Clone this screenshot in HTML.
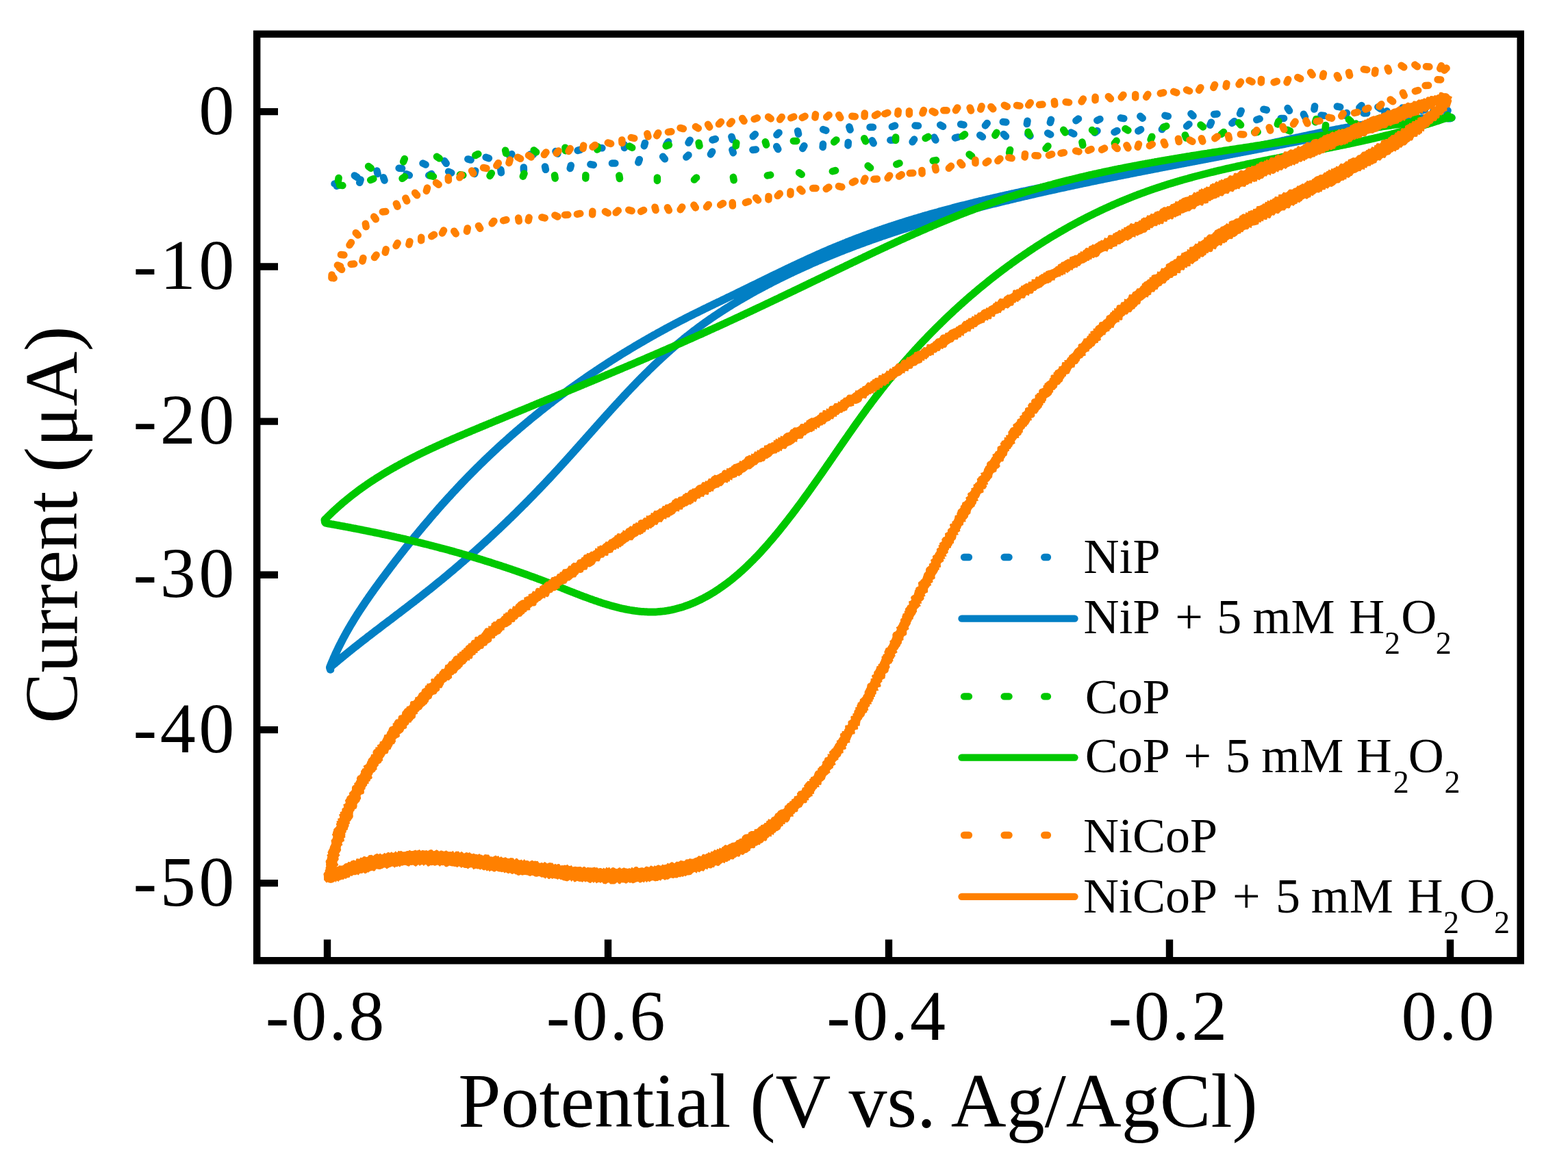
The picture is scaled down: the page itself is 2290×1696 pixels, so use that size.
<!DOCTYPE html><html><head><meta charset="utf-8"><style>html,body{margin:0;padding:0;background:#fff;overflow:hidden}svg{display:block}</style></head><body><svg xmlns="http://www.w3.org/2000/svg" width="2290" height="1696" viewBox="0 0 2290 1696">
<rect width="100%" height="100%" fill="#fff"/>
<path d="M488.5 268.4l4.5 0.0M517.8 256.5l3.8 2.5M550.5 249.5l1.1 4.4M582.6 245.7l4.5 0.4M617.5 238.6l4.1 1.9M649.2 235.1l2.5 3.7M683.3 232.4l4.3 1.2M709.6 229.8l4.3 1.4M747.3 225.1l-2.6 3.7M774.4 225.5l4.5 0.3M811.5 221.1l2.9 3.5M847.9 218.6l-4.3 1.3M874.9 215.9l4.5 0.3M911.8 211.4l0.1 4.5M942.0 208.9l-1.2 4.3M976.1 207.1l-2.6 3.7M1007.7 204.7l-2.2 3.9M1044.8 203.1l-4.3 1.3M1068.4 199.7l1.4 4.3M1102.9 196.1l-3.2 3.2M1137.6 193.8l-3.2 3.2M1165.1 191.4l1.0 4.4M1202.1 189.1l4.2 1.6M1240.3 185.3l1.3 4.3M1270.5 185.8l4.5 0.0M1307.1 183.5l-4.2 1.6M1336.5 183.5l4.5 0.2M1373.2 182.5l3.9 2.3M1403.1 181.5l4.4 0.9M1441.7 180.0l-2.8 3.5M1464.8 178.1l4.5 0.4M1500.5 176.7l-0.7 4.4M1535.0 174.8l-1.2 4.3M1575.0 173.6l-3.6 2.6M1606.4 174.0l-4.1 1.9M1636.9 172.3l4.4 0.8M1665.3 169.8l3.4 2.9M1701.4 168.8l4.4 1.0M1739.4 166.1l3.2 3.2M1777.6 166.5l-4.5 0.4M1812.7 161.9l-1.7 4.2M1845.4 159.7l4.4 1.0M1880.6 158.0l2.4 3.8M1920.1 155.2l-0.7 4.4M1952.8 155.5l4.4 0.9M1988.5 153.9l-3.2 3.2M2012.4 156.3l3.7 2.6M2048.0 157.6l3.0 3.3M2080.8 160.2l-4.3 1.3M2114.5 161.3l-1.6 4.2M495.8 270.5l-4.3 1.2M526.6 262.5l-1.4 4.3M560.0 259.2l1.5 4.3M593.7 254.2l4.1 1.9M630.1 253.9l-3.9 2.3M655.1 250.7l4.1 1.8M694.2 249.5l-1.1 4.4M731.3 247.8l0.6 4.5M764.8 244.4l0.1 4.5M796.0 243.4l0.9 4.4M833.8 241.7l-1.1 4.4M862.4 240.1l4.4 0.8M893.9 238.5l4.5 0.0M933.8 232.9l-1.5 4.3M968.1 228.8l2.8 3.5M1005.5 226.5l-3.2 3.1M1040.2 221.5l-2.3 3.9M1069.4 218.9l1.4 4.3M1103.9 218.5l-4.5 0.4M1134.2 214.0l2.1 4.0M1174.4 213.0l-2.2 3.9M1202.0 210.5l-0.4 4.5M1238.8 207.9l-0.3 4.5M1273.6 205.3l2.1 4.0M1304.8 204.5l-4.5 0.2M1335.1 203.6l-2.5 3.7M1364.3 200.6l2.1 4.0M1399.2 200.2l-4.3 1.2M1431.2 197.4l3.7 2.6M1465.8 196.0l3.2 3.2M1501.3 195.7l3.3 3.0M1530.2 194.5l4.0 2.1M1564.3 193.6l4.0 2.0M1602.5 191.1l-3.5 2.8M1631.5 191.0l-4.0 2.1M1666.1 189.2l-3.8 2.3M1699.6 185.4l-2.7 3.6M1736.5 181.4l-3.4 3.0M1769.0 178.7l-1.8 4.1M1802.8 177.2l-3.5 2.8M1839.6 173.6l-4.3 1.4M1875.1 172.9l-4.5 0.1M1903.9 166.8l2.0 4.0M1929.5 168.6l4.5 0.4M1967.0 165.0l-2.5 3.7M1996.2 165.3l-4.5 0.1M2025.5 162.2l-3.2 3.2M2054.1 163.2l3.5 2.8M2093.2 162.3l-1.3 4.3" fill="none" stroke="#027fc4" stroke-width="10.5" stroke-linecap="round"/>
<path d="M2120.0 172.0L2118.2 172.7L2116.1 172.7L2114.1 172.6L2112.0 172.6L2110.0 172.5L2108.0 172.5L2105.9 172.5L2103.9 172.5L2101.9 172.5L2099.8 172.5L2097.8 172.5L2095.8 172.5L2093.8 172.5L2091.7 172.6L2089.7 172.6L2087.7 172.7L2085.7 172.7L2083.7 172.8L2081.6 172.9L2079.6 172.9L2077.6 173.0L2075.6 173.1L2073.6 173.2L2071.6 173.3L2069.6 173.4L2067.6 173.5L2065.5 173.6L2063.5 173.8L2061.5 173.9L2059.5 174.1L2057.5 174.2L2055.5 174.4L2053.5 174.5L2051.5 174.7L2049.5 174.9L2047.5 175.0L2045.5 175.2L2043.5 175.4L2041.5 175.6L2039.6 175.8L2037.6 176.0L2035.6 176.2L2033.6 176.4L2031.6 176.6L2029.6 176.9L2027.6 177.1L2025.6 177.3L2023.6 177.6L2021.7 177.8L2019.7 178.1L2017.7 178.3L2015.7 178.6L2013.7 178.9L2011.8 179.1L2009.8 179.4L2007.8 179.7L2005.8 180.0L2003.8 180.3L2001.9 180.5L1999.9 180.8L1997.9 181.1L1995.9 181.4L1994.0 181.8L1992.0 182.1L1990.0 182.4L1988.0 182.7L1986.1 183.0L1984.1 183.4L1982.1 183.7L1980.2 184.0L1978.2 184.4L1976.2 184.7L1974.3 185.0L1972.3 185.4L1970.3 185.7L1968.4 186.1L1966.4 186.4L1964.4 186.8L1962.5 187.2L1960.5 187.5L1958.6 187.9L1956.6 188.3L1954.6 188.7L1952.7 189.0L1950.7 189.4L1948.7 189.8L1946.8 190.2L1944.8 190.6L1942.9 191.0L1940.9 191.3L1938.9 191.7L1937.0 192.1L1935.0 192.5L1933.1 192.9L1931.1 193.3L1929.2 193.7L1927.2 194.1L1925.2 194.5L1923.3 195.0L1921.3 195.4L1919.4 195.8L1917.4 196.2L1915.5 196.6L1913.5 197.0L1911.6 197.4L1909.6 197.9L1907.6 198.3L1905.7 198.7L1903.7 199.1L1901.8 199.5L1899.8 200.0L1897.9 200.4L1895.9 200.8L1894.0 201.2L1892.0 201.7L1890.0 202.1L1888.1 202.5L1886.1 202.9L1884.2 203.4L1882.2 203.8L1880.3 204.2L1878.3 204.6L1876.4 205.1L1874.4 205.5L1872.5 205.9L1870.5 206.3L1868.5 206.8L1866.6 207.2L1864.6 207.6L1862.7 208.0L1860.7 208.5L1858.8 208.9L1856.8 209.3L1854.8 209.7L1852.9 210.2L1850.9 210.6L1849.0 211.0L1847.0 211.4L1845.1 211.8L1843.1 212.3L1841.1 212.7L1839.2 213.1L1837.2 213.5L1835.3 213.9L1833.3 214.3L1831.3 214.7L1829.4 215.2L1827.4 215.6L1825.5 216.0L1823.5 216.4L1821.5 216.8L1819.6 217.2L1817.6 217.6L1815.6 218.0L1813.7 218.4L1811.7 218.8L1809.8 219.2L1807.8 219.6L1805.8 220.0L1803.9 220.4L1801.9 220.8L1799.9 221.2L1798.0 221.6L1796.0 221.9L1794.0 222.3L1792.1 222.7L1790.1 223.1L1788.1 223.5L1786.2 223.9L1784.2 224.3L1782.2 224.7L1780.3 225.0L1778.3 225.4L1776.3 225.8L1774.4 226.2L1772.4 226.6L1770.4 227.0L1768.5 227.3L1766.5 227.7L1764.5 228.1L1762.5 228.5L1760.6 228.8L1758.6 229.2L1756.6 229.6L1754.7 230.0L1752.7 230.3L1750.7 230.7L1748.7 231.1L1746.8 231.5L1744.8 231.8L1742.8 232.2L1740.9 232.6L1738.9 233.0L1736.9 233.3L1734.9 233.7L1733.0 234.1L1731.0 234.4L1729.0 234.8L1727.1 235.2L1725.1 235.5L1723.1 235.9L1721.1 236.3L1719.2 236.6L1717.2 237.0L1715.2 237.4L1713.3 237.7L1711.3 238.1L1709.3 238.5L1707.3 238.8L1705.4 239.2L1703.4 239.5L1701.4 239.9L1699.4 240.3L1697.5 240.6L1695.5 241.0L1693.5 241.4L1691.5 241.7L1689.6 242.1L1687.6 242.5L1685.6 242.8L1683.6 243.2L1681.7 243.5L1679.7 243.9L1677.7 244.3L1675.8 244.6L1673.8 245.0L1671.8 245.3L1669.8 245.7L1667.9 246.1L1665.9 246.4L1663.9 246.8L1661.9 247.2L1660.0 247.5L1658.0 247.9L1656.0 248.2L1654.0 248.6L1652.1 249.0L1650.1 249.3L1648.1 249.7L1646.1 250.1L1644.2 250.4L1642.2 250.8L1640.2 251.1L1638.3 251.5L1636.3 251.9L1634.3 252.2L1632.3 252.6L1630.4 253.0L1628.4 253.3L1626.4 253.7L1624.4 254.1L1622.5 254.4L1620.5 254.8L1618.5 255.2L1616.6 255.5L1614.6 255.9L1612.6 256.3L1610.6 256.6L1608.7 257.0L1606.7 257.4L1604.7 257.7L1602.8 258.1L1600.8 258.5L1598.8 258.8L1596.8 259.2L1594.9 259.6L1592.9 260.0L1590.9 260.3L1589.0 260.7L1587.0 261.1L1585.0 261.4L1583.1 261.8L1581.1 262.2L1579.1 262.6L1577.1 263.0L1575.2 263.3L1573.2 263.7L1571.2 264.1L1569.3 264.5L1567.3 264.9L1565.3 265.2L1563.4 265.6L1561.4 266.0L1559.4 266.4L1557.5 266.8L1555.5 267.2L1553.5 267.5L1551.6 267.9L1549.6 268.3L1547.6 268.7L1545.7 269.1L1543.7 269.5L1541.7 269.9L1539.8 270.3L1537.8 270.7L1535.8 271.1L1533.9 271.5L1531.9 271.8L1530.0 272.2L1528.0 272.6L1526.0 273.0L1524.1 273.4L1522.1 273.8L1520.1 274.2L1518.2 274.7L1516.2 275.1L1514.3 275.5L1512.3 275.9L1510.3 276.3L1508.4 276.7L1506.4 277.1L1504.5 277.5L1502.5 277.9L1500.5 278.3L1498.6 278.8L1496.6 279.2L1494.7 279.6L1492.7 280.0L1490.8 280.4L1488.8 280.9L1486.9 281.3L1484.9 281.7L1482.9 282.1L1481.0 282.6L1479.0 283.0L1477.1 283.4L1475.1 283.8L1473.2 284.3L1471.2 284.7L1469.3 285.1L1467.3 285.6L1465.4 286.0L1463.4 286.5L1461.5 286.9L1459.5 287.3L1457.6 287.8L1455.6 288.2L1453.7 288.7L1451.7 289.1L1449.8 289.6L1447.8 290.0L1445.9 290.5L1443.9 291.0L1442.0 291.4L1440.0 291.9L1438.1 292.3L1436.2 292.8L1434.2 293.3L1432.3 293.7L1430.3 294.2L1428.4 294.7L1426.4 295.1L1424.5 295.6L1422.6 296.1L1420.6 296.6L1418.7 297.0L1416.7 297.5L1414.8 298.0L1412.9 298.5L1410.9 299.0L1409.0 299.5L1407.1 300.0L1405.1 300.4L1403.2 300.9L1401.3 301.4L1399.3 301.9L1397.4 302.4L1395.5 302.9L1393.5 303.4L1391.6 303.9L1389.7 304.5L1387.7 305.0L1385.8 305.5L1383.9 306.0L1381.9 306.5L1380.0 307.0L1378.1 307.5L1376.2 308.1L1374.2 308.6L1372.3 309.1L1370.4 309.7L1368.5 310.2L1366.6 310.7L1364.6 311.3L1362.7 311.8L1360.8 312.3L1358.9 312.9L1357.0 313.4L1355.0 314.0L1353.1 314.5L1351.2 315.1L1349.3 315.6L1347.4 316.2L1345.5 316.8L1343.5 317.3L1341.6 317.9L1339.7 318.5L1337.8 319.0L1335.9 319.6L1334.0 320.2L1332.1 320.8L1330.2 321.4L1328.3 321.9L1326.4 322.5L1324.5 323.1L1322.6 323.7L1320.7 324.3L1318.8 324.9L1316.9 325.5L1315.0 326.1L1313.1 326.7L1311.2 327.3L1309.3 327.9L1307.4 328.6L1305.5 329.2L1303.6 329.8L1301.7 330.4L1299.8 331.0L1297.9 331.7L1296.0 332.3L1294.1 332.9L1292.2 333.6L1290.3 334.2L1288.5 334.9L1286.6 335.5L1284.7 336.2L1282.8 336.8L1280.9 337.5L1279.0 338.1L1277.2 338.8L1275.3 339.5L1273.4 340.1L1271.5 340.8L1269.6 341.5L1267.8 342.2L1265.9 342.9L1264.0 343.5L1262.2 344.2L1260.3 344.9L1258.4 345.6L1256.5 346.3L1254.7 347.0L1252.8 347.7L1250.9 348.4L1249.1 349.1L1247.2 349.9L1245.4 350.6L1243.5 351.3L1241.6 352.0L1239.8 352.8L1237.9 353.5L1236.1 354.2L1234.2 355.0L1232.4 355.7L1230.5 356.5L1228.7 357.2L1226.8 358.0L1225.0 358.7L1223.1 359.5L1221.3 360.3L1219.4 361.0L1217.6 361.8L1215.7 362.6L1213.9 363.3L1212.1 364.1L1210.2 364.9L1208.4 365.7L1206.5 366.5L1204.7 367.3L1202.9 368.1L1201.0 368.9L1199.2 369.7L1197.4 370.5L1195.5 371.3L1193.7 372.1L1191.9 372.9L1190.1 373.8L1188.2 374.6L1186.4 375.4L1184.6 376.2L1182.8 377.1L1180.9 377.9L1179.1 378.7L1177.3 379.6L1175.5 380.4L1173.7 381.2L1171.8 382.1L1170.0 382.9L1168.2 383.8L1166.4 384.6L1164.6 385.5L1162.7 386.3L1160.9 387.2L1159.1 388.0L1157.3 388.9L1155.5 389.8L1153.7 390.6L1151.9 391.5L1150.1 392.3L1148.2 393.2L1146.4 394.1L1144.6 394.9L1142.8 395.8L1141.0 396.7L1139.2 397.6L1137.4 398.4L1135.6 399.3L1133.8 400.2L1132.0 401.0L1130.2 401.9L1128.3 402.8L1126.5 403.7L1124.7 404.6L1122.9 405.4L1121.1 406.3L1119.3 407.2L1117.5 408.1L1115.7 409.0L1113.9 409.9L1112.1 410.7L1110.3 411.6L1108.5 412.5L1106.7 413.4L1104.9 414.3L1103.1 415.2L1101.3 416.0L1099.5 416.9L1097.6 417.8L1095.8 418.7L1094.0 419.6L1092.2 420.5L1090.4 421.3L1088.6 422.2L1086.8 423.1L1085.0 424.0L1083.2 424.9L1081.4 425.8L1079.6 426.6L1077.8 427.5L1076.0 428.4L1074.2 429.3L1072.4 430.2L1070.6 431.0L1068.7 431.9L1066.9 432.8L1065.1 433.7L1063.3 434.5L1061.5 435.4L1059.7 436.3L1057.9 437.2L1056.1 438.0L1054.3 438.9L1052.5 439.8L1050.7 440.7L1048.8 441.5L1047.0 442.4L1045.2 443.3L1043.4 444.1L1041.6 445.0L1039.8 445.9L1038.0 446.8L1036.2 447.6L1034.4 448.5L1032.6 449.4L1030.8 450.3L1029.0 451.1L1027.2 452.0L1025.4 452.9L1023.6 453.8L1021.8 454.7L1020.0 455.6L1018.2 456.5L1016.4 457.3L1014.6 458.2L1012.8 459.1L1011.0 460.0L1009.2 460.9L1007.4 461.8L1005.6 462.7L1003.8 463.6L1002.0 464.5L1000.3 465.5L998.5 466.4L996.7 467.3L994.9 468.2L993.1 469.1L991.4 470.0L989.6 471.0L987.8 471.9L986.0 472.8L984.3 473.8L982.5 474.7L980.7 475.6L979.0 476.6L977.2 477.5L975.4 478.5L973.7 479.4L971.9 480.4L970.2 481.3L968.4 482.3L966.7 483.3L964.9 484.2L963.1 485.2L961.4 486.1L959.6 487.1L957.9 488.1L956.2 489.1L954.4 490.0L952.7 491.0L950.9 492.0L949.2 493.0L947.4 494.0L945.7 495.0L944.0 496.0L942.2 497.0L940.5 498.0L938.8 499.0L937.1 500.0L935.3 501.0L933.6 502.0L931.9 503.0L930.2 504.0L928.4 505.0L926.7 506.0L925.0 507.1L923.3 508.1L921.6 509.1L919.9 510.1L918.2 511.2L916.5 512.2L914.8 513.2L913.0 514.3L911.3 515.3L909.6 516.4L907.9 517.4L906.2 518.5L904.6 519.5L902.9 520.6L901.2 521.6L899.5 522.7L897.8 523.8L896.1 524.8L894.4 525.9L892.7 527.0L891.1 528.0L889.4 529.1L887.7 530.2L886.0 531.3L884.3 532.4L882.7 533.5L881.0 534.5L879.3 535.6L877.7 536.7L876.0 537.8L874.3 538.9L872.7 540.0L871.0 541.1L869.4 542.2L867.7 543.4L866.0 544.5L864.4 545.6L862.7 546.7L861.1 547.8L859.4 549.0L857.8 550.1L856.2 551.2L854.5 552.3L852.9 553.5L851.2 554.6L849.6 555.8L848.0 556.9L846.3 558.0L844.7 559.2L843.1 560.3L841.5 561.5L839.8 562.7L838.2 563.8L836.6 565.0L835.0 566.1L833.4 567.3L831.7 568.5L830.1 569.6L828.5 570.8L826.9 572.0L825.3 573.2L823.7 574.4L822.1 575.6L820.5 576.7L818.9 577.9L817.3 579.1L815.7 580.3L814.1 581.5L812.5 582.7L810.9 583.9L809.3 585.1L807.8 586.3L806.2 587.6L804.6 588.8L803.0 590.0L801.4 591.2L799.9 592.4L798.3 593.7L796.7 594.9L795.1 596.1L793.6 597.4L792.0 598.6L790.5 599.8L788.9 601.1L787.3 602.3L785.8 603.6L784.2 604.8L782.7 606.1L781.1 607.3L779.6 608.6L778.0 609.9L776.5 611.1L774.9 612.4L773.4 613.7L771.9 614.9L770.3 616.2L768.8 617.5L767.3 618.8L765.7 620.1L764.2 621.3L762.7 622.6L761.2 623.9L759.6 625.2L758.1 626.5L756.6 627.8L755.1 629.1L753.6 630.4L752.1 631.7L750.6 633.0L749.0 634.4L747.5 635.7L746.0 637.0L744.5 638.3L743.0 639.6L741.6 641.0L740.1 642.3L738.6 643.6L737.1 645.0L735.6 646.3L734.1 647.7L732.6 649.0L731.1 650.3L729.7 651.7L728.2 653.0L726.7 654.4L725.3 655.8L723.8 657.1L722.3 658.5L720.9 659.9L719.4 661.2L717.9 662.6L716.5 664.0L715.0 665.3L713.6 666.7L712.1 668.1L710.7 669.5L709.2 670.9L707.8 672.3L706.3 673.7L704.9 675.1L703.5 676.5L702.0 677.9L700.6 679.3L699.2 680.7L697.7 682.1L696.3 683.5L694.9 684.9L693.5 686.4L692.1 687.8L690.6 689.2L689.2 690.6L687.8 692.1L686.4 693.5L685.0 694.9L683.6 696.4L682.2 697.8L680.8 699.2L679.4 700.7L678.0 702.1L676.6 703.6L675.2 705.0L673.8 706.5L672.4 708.0L671.1 709.4L669.7 710.9L668.3 712.3L666.9 713.8L665.6 715.3L664.2 716.8L662.8 718.2L661.4 719.7L660.1 721.2L658.7 722.7L657.4 724.2L656.0 725.6L654.6 727.1L653.3 728.6L651.9 730.1L650.6 731.6L649.2 733.1L647.9 734.6L646.5 736.1L645.2 737.6L643.9 739.1L642.5 740.6L641.2 742.1L639.9 743.6L638.5 745.1L637.2 746.7L635.9 748.2L634.6 749.7L633.2 751.2L631.9 752.7L630.6 754.3L629.3 755.8L628.0 757.3L626.7 758.9L625.4 760.4L624.1 761.9L622.8 763.5L621.5 765.0L620.2 766.5L618.9 768.1L617.6 769.6L616.3 771.2L615.0 772.7L613.7 774.3L612.4 775.8L611.1 777.4L609.8 778.9L608.6 780.5L607.3 782.0L606.0 783.6L604.7 785.1L603.5 786.7L602.2 788.3L600.9 789.8L599.7 791.4L598.4 793.0L597.2 794.5L595.9 796.1L594.6 797.7L593.4 799.3L592.1 800.8L590.9 802.4L589.6 804.0L588.4 805.6L587.2 807.1L585.9 808.7L584.7 810.3L583.4 811.9L582.2 813.5L581.0 815.1L579.8 816.6L578.5 818.2L577.3 819.8L576.1 821.4L574.9 823.0L573.6 824.6L572.4 826.2L571.2 827.8L570.0 829.4L568.8 831.0L567.6 832.6L566.4 834.2L565.2 835.8L564.0 837.4L562.8 839.0L561.6 840.6L560.4 842.2L559.2 843.8L558.0 845.4L556.8 847.0L555.6 848.6L554.4 850.2L553.3 851.8L552.1 853.5L550.9 855.1L549.7 856.7L548.6 858.3L547.4 859.9L546.2 861.5L545.1 863.2L543.9 864.8L542.8 866.4L541.6 868.0L540.5 869.7L539.3 871.3L538.2 872.9L537.1 874.6L535.9 876.2L534.8 877.8L533.7 879.5L532.6 881.1L531.5 882.8L530.4 884.4L529.3 886.1L528.2 887.7L527.1 889.4L526.0 891.0L524.9 892.7L523.8 894.4L522.7 896.0L521.7 897.7L520.6 899.4L519.6 901.1L518.5 902.7L517.5 904.4L516.4 906.1L515.4 907.8L514.4 909.5L513.4 911.2L512.3 912.9L511.3 914.6L510.3 916.3L509.3 918.0L508.4 919.7L507.4 921.4L506.4 923.2L505.4 924.9L504.5 926.6L503.5 928.4L502.6 930.1L501.6 931.8L500.7 933.6L499.8 935.3L498.9 937.1L498.0 938.9L497.1 940.6L496.2 942.4L495.3 944.2L494.4 945.9L493.6 947.7L492.7 949.5L491.9 951.3L491.0 953.1L490.2 954.9L489.4 956.7L488.6 958.5L487.7 960.3L487.0 962.2L486.2 964.0L485.4 965.8L484.6 967.7L483.9 969.5L483.1 971.4L482.4 973.2L481.7 975.1L482.5 978.0L482.3 974.8L483.8 973.5L485.3 972.2L486.8 970.9L488.4 969.6L489.9 968.3L491.4 967.1L492.9 965.8L494.5 964.5L496.0 963.2L497.5 962.0L499.1 960.7L500.6 959.4L502.1 958.2L503.7 956.9L505.2 955.7L506.8 954.4L508.3 953.2L509.9 951.9L511.4 950.7L513.0 949.4L514.5 948.2L516.1 946.9L517.6 945.7L519.2 944.5L520.8 943.2L522.3 942.0L523.9 940.8L525.5 939.5L527.1 938.3L528.6 937.1L530.2 935.8L531.8 934.6L533.4 933.4L534.9 932.2L536.5 930.9L538.1 929.7L539.7 928.5L541.3 927.3L542.8 926.1L544.4 924.9L546.0 923.6L547.6 922.4L549.2 921.2L550.8 920.0L552.4 918.8L554.0 917.6L555.5 916.4L557.1 915.1L558.7 913.9L560.3 912.7L561.9 911.5L563.5 910.3L565.1 909.1L566.7 907.9L568.3 906.7L569.9 905.5L571.5 904.3L573.1 903.1L574.7 901.8L576.3 900.6L577.8 899.4L579.4 898.2L581.0 897.0L582.6 895.8L584.2 894.6L585.8 893.4L587.4 892.2L589.0 890.9L590.6 889.7L592.2 888.5L593.8 887.3L595.3 886.1L596.9 884.9L598.5 883.6L600.1 882.4L601.7 881.2L603.3 880.0L604.9 878.8L606.4 877.5L608.0 876.3L609.6 875.1L611.2 873.8L612.8 872.6L614.3 871.4L615.9 870.1L617.5 868.9L619.1 867.7L620.6 866.4L622.2 865.2L623.8 864.0L625.3 862.7L626.9 861.5L628.5 860.2L630.0 859.0L631.6 857.7L633.1 856.5L634.7 855.2L636.2 853.9L637.8 852.7L639.3 851.4L640.9 850.2L642.4 848.9L644.0 847.6L645.5 846.4L647.1 845.1L648.6 843.8L650.1 842.5L651.7 841.3L653.2 840.0L654.8 838.7L656.3 837.4L657.8 836.1L659.3 834.8L660.9 833.6L662.4 832.3L663.9 831.0L665.4 829.7L667.0 828.4L668.5 827.1L670.0 825.8L671.5 824.5L673.0 823.2L674.5 821.9L676.1 820.6L677.6 819.3L679.1 817.9L680.6 816.6L682.1 815.3L683.6 814.0L685.1 812.7L686.6 811.4L688.1 810.0L689.6 808.7L691.1 807.4L692.6 806.1L694.1 804.7L695.5 803.4L697.0 802.1L698.5 800.7L700.0 799.4L701.5 798.1L703.0 796.7L704.4 795.4L705.9 794.0L707.4 792.7L708.9 791.3L710.3 790.0L711.8 788.6L713.3 787.3L714.8 785.9L716.2 784.6L717.7 783.2L719.2 781.8L720.6 780.5L722.1 779.1L723.5 777.8L725.0 776.4L726.4 775.0L727.9 773.6L729.4 772.3L730.8 770.9L732.3 769.5L733.7 768.1L735.1 766.8L736.6 765.4L738.0 764.0L739.5 762.6L740.9 761.2L742.4 759.8L743.8 758.4L745.2 757.1L746.7 755.7L748.1 754.3L749.5 752.9L750.9 751.5L752.4 750.1L753.8 748.7L755.2 747.3L756.6 745.8L758.1 744.4L759.5 743.0L760.9 741.6L762.3 740.2L763.7 738.8L765.1 737.4L766.6 736.0L768.0 734.5L769.4 733.1L770.8 731.7L772.2 730.3L773.6 728.8L775.0 727.4L776.4 726.0L777.8 724.6L779.2 723.1L780.6 721.7L782.0 720.2L783.4 718.8L784.8 717.4L786.2 715.9L787.5 714.5L788.9 713.0L790.3 711.6L791.7 710.1L793.1 708.7L794.5 707.2L795.8 705.8L797.2 704.3L798.6 702.9L800.0 701.4L801.3 700.0L802.7 698.5L804.1 697.0L805.4 695.6L806.8 694.1L808.2 692.6L809.5 691.2L810.9 689.7L812.3 688.2L813.6 686.7L815.0 685.3L816.3 683.8L817.7 682.3L819.0 680.8L820.4 679.3L821.7 677.9L823.1 676.4L824.4 674.9L825.8 673.4L827.1 671.9L828.5 670.4L829.8 668.9L831.2 667.4L832.5 665.9L833.9 664.5L835.2 663.0L836.5 661.5L837.9 660.0L839.2 658.5L840.5 657.0L841.9 655.5L843.2 654.0L844.6 652.5L845.9 651.0L847.2 649.5L848.6 648.0L849.9 646.5L851.2 645.0L852.6 643.5L853.9 642.0L855.2 640.5L856.6 639.0L857.9 637.5L859.2 636.0L860.6 634.5L861.9 633.0L863.2 631.5L864.6 630.0L865.9 628.5L867.2 627.0L868.6 625.5L869.9 624.0L871.2 622.5L872.6 621.0L873.9 619.5L875.2 618.0L876.6 616.5L877.9 615.0L879.3 613.5L880.6 612.0L881.9 610.5L883.3 609.0L884.6 607.5L886.0 606.0L887.3 604.5L888.6 603.1L890.0 601.6L891.3 600.1L892.7 598.6L894.0 597.1L895.4 595.6L896.7 594.2L898.1 592.7L899.4 591.2L900.8 589.7L902.1 588.3L903.5 586.8L904.8 585.3L906.2 583.8L907.6 582.4L908.9 580.9L910.3 579.4L911.6 578.0L913.0 576.5L914.4 575.1L915.7 573.6L917.1 572.1L918.5 570.7L919.9 569.2L921.2 567.8L922.6 566.3L924.0 564.9L925.4 563.5L926.8 562.0L928.2 560.6L929.5 559.2L930.9 557.7L932.3 556.3L933.7 554.9L935.1 553.5L936.5 552.0L937.9 550.6L939.3 549.2L940.7 547.8L942.1 546.4L943.6 545.0L945.0 543.6L946.4 542.2L947.8 540.8L949.2 539.4L950.7 538.0L952.1 536.6L953.5 535.2L955.0 533.8L956.4 532.5L957.8 531.1L959.3 529.7L960.7 528.4L962.2 527.0L963.6 525.6L965.1 524.3L966.5 522.9L968.0 521.6L969.5 520.2L970.9 518.9L972.4 517.6L973.9 516.2L975.4 514.9L976.8 513.6L978.3 512.3L979.8 510.9L981.3 509.6L982.8 508.3L984.3 507.0L985.8 505.7L987.3 504.4L988.8 503.1L990.4 501.9L991.9 500.6L993.4 499.3L994.9 498.0L996.5 496.8L998.0 495.5L999.5 494.2L1001.1 493.0L1002.6 491.7L1004.2 490.5L1005.8 489.3L1007.3 488.0L1008.9 486.8L1010.5 485.6L1012.0 484.4L1013.6 483.2L1015.2 482.0L1016.8 480.8L1018.4 479.6L1020.0 478.4L1021.6 477.2L1023.2 476.0L1024.8 474.8L1026.4 473.7L1028.0 472.5L1029.7 471.3L1031.3 470.2L1032.9 469.0L1034.5 467.9L1036.2 466.7L1037.8 465.6L1039.5 464.5L1041.1 463.3L1042.8 462.2L1044.4 461.1L1046.1 460.0L1047.8 458.9L1049.4 457.8L1051.1 456.7L1052.8 455.6L1054.5 454.5L1056.1 453.4L1057.8 452.3L1059.5 451.3L1061.2 450.2L1062.9 449.1L1064.6 448.1L1066.3 447.0L1068.0 446.0L1069.7 444.9L1071.4 443.9L1073.2 442.8L1074.9 441.8L1076.6 440.8L1078.3 439.7L1080.0 438.7L1081.8 437.7L1083.5 436.7L1085.2 435.7L1087.0 434.7L1088.7 433.7L1090.5 432.7L1092.2 431.7L1093.9 430.7L1095.7 429.7L1097.4 428.7L1099.2 427.7L1101.0 426.8L1102.7 425.8L1104.5 424.8L1106.2 423.9L1108.0 422.9L1109.8 422.0L1111.5 421.0L1113.3 420.1L1115.1 419.1L1116.9 418.2L1118.6 417.3L1120.4 416.3L1122.2 415.4L1124.0 414.5L1125.8 413.6L1127.5 412.6L1129.3 411.7L1131.1 410.8L1132.9 409.9L1134.7 409.0L1136.5 408.1L1138.3 407.2L1140.1 406.3L1141.9 405.4L1143.7 404.6L1145.5 403.7L1147.3 402.8L1149.1 401.9L1150.9 401.0L1152.7 400.2L1154.5 399.3L1156.3 398.5L1158.1 397.6L1159.9 396.7L1161.7 395.9L1163.6 395.0L1165.4 394.2L1167.2 393.4L1169.0 392.5L1170.8 391.7L1172.7 390.9L1174.5 390.0L1176.3 389.2L1178.1 388.4L1180.0 387.6L1181.8 386.8L1183.6 385.9L1185.4 385.1L1187.3 384.3L1189.1 383.5L1190.9 382.7L1192.8 381.9L1194.6 381.1L1196.5 380.3L1198.3 379.6L1200.1 378.8L1202.0 378.0L1203.8 377.2L1205.7 376.4L1207.5 375.7L1209.4 374.9L1211.2 374.1L1213.1 373.4L1214.9 372.6L1216.8 371.9L1218.6 371.1L1220.5 370.4L1222.3 369.6L1224.2 368.9L1226.0 368.1L1227.9 367.4L1229.8 366.7L1231.6 365.9L1233.5 365.2L1235.3 364.5L1237.2 363.7L1239.1 363.0L1240.9 362.3L1242.8 361.6L1244.7 360.9L1246.5 360.2L1248.4 359.4L1250.3 358.7L1252.2 358.0L1254.0 357.3L1255.9 356.6L1257.8 355.9L1259.7 355.3L1261.5 354.6L1263.4 353.9L1265.3 353.2L1267.2 352.5L1269.1 351.8L1271.0 351.2L1272.8 350.5L1274.7 349.8L1276.6 349.2L1278.5 348.5L1280.4 347.8L1282.3 347.2L1284.2 346.5L1286.1 345.9L1288.0 345.2L1289.8 344.5L1291.7 343.9L1293.6 343.3L1295.5 342.6L1297.4 342.0L1299.3 341.3L1301.2 340.7L1303.1 340.1L1305.0 339.4L1306.9 338.8L1308.8 338.2L1310.7 337.6L1312.6 336.9L1314.5 336.3L1316.4 335.7L1318.3 335.1L1320.3 334.5L1322.2 333.9L1324.1 333.3L1326.0 332.7L1327.9 332.0L1329.8 331.4L1331.7 330.8L1333.6 330.3L1335.5 329.7L1337.5 329.1L1339.4 328.5L1341.3 327.9L1343.2 327.3L1345.1 326.7L1347.0 326.1L1349.0 325.6L1350.9 325.0L1352.8 324.4L1354.7 323.8L1356.6 323.3L1358.6 322.7L1360.5 322.1L1362.4 321.6L1364.3 321.0L1366.2 320.4L1368.2 319.9L1370.1 319.3L1372.0 318.8L1374.0 318.2L1375.9 317.7L1377.8 317.1L1379.7 316.6L1381.7 316.0L1383.6 315.5L1385.5 314.9L1387.5 314.4L1389.4 313.9L1391.3 313.3L1393.3 312.8L1395.2 312.3L1397.1 311.7L1399.1 311.2L1401.0 310.7L1402.9 310.1L1404.9 309.6L1406.8 309.1L1408.7 308.6L1410.7 308.1L1412.6 307.5L1414.5 307.0L1416.5 306.5L1418.4 306.0L1420.4 305.5L1422.3 305.0L1424.2 304.5L1426.2 304.0L1428.1 303.5L1430.1 303.0L1432.0 302.5L1434.0 302.0L1435.9 301.5L1437.8 301.0L1439.8 300.5L1441.7 300.0L1443.7 299.5L1445.6 299.0L1447.6 298.5L1449.5 298.0L1451.4 297.5L1453.4 297.1L1455.3 296.6L1457.3 296.1L1459.2 295.6L1461.2 295.1L1463.1 294.7L1465.1 294.2L1467.0 293.7L1469.0 293.2L1470.9 292.8L1472.9 292.3L1474.8 291.8L1476.8 291.4L1478.7 290.9L1480.7 290.4L1482.6 290.0L1484.6 289.5L1486.5 289.0L1488.5 288.6L1490.4 288.1L1492.4 287.7L1494.3 287.2L1496.3 286.7L1498.2 286.3L1500.2 285.8L1502.1 285.4L1504.1 284.9L1506.0 284.5L1508.0 284.0L1509.9 283.6L1511.9 283.1L1513.9 282.7L1515.8 282.2L1517.8 281.8L1519.7 281.4L1521.7 280.9L1523.6 280.5L1525.6 280.0L1527.5 279.6L1529.5 279.2L1531.4 278.7L1533.4 278.3L1535.3 277.9L1537.3 277.4L1539.3 277.0L1541.2 276.6L1543.2 276.1L1545.1 275.7L1547.1 275.3L1549.0 274.8L1551.0 274.4L1552.9 274.0L1554.9 273.6L1556.9 273.1L1558.8 272.7L1560.8 272.3L1562.7 271.9L1564.7 271.4L1566.6 271.0L1568.6 270.6L1570.6 270.2L1572.5 269.8L1574.5 269.4L1576.4 268.9L1578.4 268.5L1580.3 268.1L1582.3 267.7L1584.3 267.3L1586.2 266.9L1588.2 266.5L1590.1 266.1L1592.1 265.6L1594.0 265.2L1596.0 264.8L1598.0 264.4L1599.9 264.0L1601.9 263.6L1603.8 263.2L1605.8 262.8L1607.8 262.4L1609.7 262.0L1611.7 261.6L1613.6 261.2L1615.6 260.8L1617.6 260.4L1619.5 260.0L1621.5 259.6L1623.4 259.2L1625.4 258.8L1627.4 258.4L1629.3 258.0L1631.3 257.6L1633.2 257.2L1635.2 256.8L1637.2 256.4L1639.1 256.0L1641.1 255.6L1643.1 255.2L1645.0 254.9L1647.0 254.5L1648.9 254.1L1650.9 253.7L1652.9 253.3L1654.8 252.9L1656.8 252.5L1658.7 252.1L1660.7 251.7L1662.7 251.3L1664.6 251.0L1666.6 250.6L1668.6 250.2L1670.5 249.8L1672.5 249.4L1674.4 249.0L1676.4 248.6L1678.4 248.3L1680.3 247.9L1682.3 247.5L1684.3 247.1L1686.2 246.7L1688.2 246.4L1690.1 246.0L1692.1 245.6L1694.1 245.2L1696.0 244.8L1698.0 244.4L1700.0 244.1L1701.9 243.7L1703.9 243.3L1705.9 242.9L1707.8 242.5L1709.8 242.2L1711.7 241.8L1713.7 241.4L1715.7 241.0L1717.6 240.7L1719.6 240.3L1721.6 239.9L1723.5 239.5L1725.5 239.1L1727.5 238.8L1729.4 238.4L1731.4 238.0L1733.3 237.6L1735.3 237.3L1737.3 236.9L1739.2 236.5L1741.2 236.1L1743.2 235.8L1745.1 235.4L1747.1 235.0L1749.1 234.6L1751.0 234.3L1753.0 233.9L1755.0 233.5L1756.9 233.1L1758.9 232.8L1760.9 232.4L1762.8 232.0L1764.8 231.6L1766.7 231.3L1768.7 230.9L1770.7 230.5L1772.6 230.1L1774.6 229.8L1776.6 229.4L1778.5 229.0L1780.5 228.6L1782.5 228.3L1784.4 227.9L1786.4 227.5L1788.4 227.1L1790.3 226.8L1792.3 226.4L1794.3 226.0L1796.2 225.6L1798.2 225.3L1800.2 224.9L1802.1 224.5L1804.1 224.1L1806.1 223.8L1808.0 223.4L1810.0 223.0L1811.9 222.6L1813.9 222.3L1815.9 221.9L1817.8 221.5L1819.8 221.1L1821.8 220.8L1823.7 220.4L1825.7 220.0L1827.7 219.6L1829.6 219.3L1831.6 218.9L1833.6 218.5L1835.5 218.1L1837.5 217.7L1839.5 217.4L1841.4 217.0L1843.4 216.6L1845.4 216.2L1847.3 215.8L1849.3 215.5L1851.3 215.1L1853.2 214.7L1855.2 214.3L1857.2 213.9L1859.1 213.6L1861.1 213.2L1863.0 212.8L1865.0 212.4L1867.0 212.0L1868.9 211.6L1870.9 211.3L1872.9 210.9L1874.8 210.5L1876.8 210.1L1878.8 209.7L1880.7 209.3L1882.7 208.9L1884.7 208.6L1886.6 208.2L1888.6 207.8L1890.6 207.4L1892.5 207.0L1894.5 206.6L1896.4 206.2L1898.4 205.8L1900.4 205.4L1902.3 205.1L1904.3 204.7L1906.3 204.3L1908.2 203.9L1910.2 203.5L1912.2 203.1L1914.1 202.7L1916.1 202.3L1918.1 201.9L1920.0 201.5L1922.0 201.1L1924.0 200.7L1925.9 200.3L1927.9 199.9L1929.8 199.5L1931.8 199.1L1933.8 198.8L1935.7 198.4L1937.7 198.0L1939.7 197.6L1941.6 197.2L1943.6 196.8L1945.6 196.4L1947.5 196.0L1949.5 195.6L1951.5 195.2L1953.4 194.9L1955.4 194.5L1957.4 194.1L1959.3 193.7L1961.3 193.3L1963.3 192.9L1965.2 192.6L1967.2 192.2L1969.2 191.8L1971.1 191.4L1973.1 191.1L1975.1 190.7L1977.0 190.3L1979.0 189.9L1981.0 189.6L1982.9 189.2L1984.9 188.9L1986.9 188.5L1988.9 188.1L1990.8 187.8L1992.8 187.4L1994.8 187.1L1996.7 186.7L1998.7 186.4L2000.7 186.0L2002.7 185.7L2004.6 185.3L2006.6 185.0L2008.6 184.7L2010.5 184.3L2012.5 184.0L2014.5 183.7L2016.5 183.4L2018.5 183.0L2020.4 182.7L2022.4 182.4L2024.4 182.1L2026.4 181.8L2028.3 181.5L2030.3 181.2L2032.3 180.9L2034.3 180.6L2036.3 180.3L2038.2 180.0L2040.2 179.7L2042.2 179.4L2044.2 179.2L2046.2 178.9L2048.1 178.6L2050.1 178.4L2052.1 178.1L2054.1 177.8L2056.1 177.6L2058.1 177.3L2060.1 177.1L2062.1 176.9L2064.0 176.6L2066.0 176.4L2068.0 176.2L2070.0 175.9L2072.0 175.7L2074.0 175.5L2076.0 175.3L2078.0 175.1L2080.0 174.9L2082.0 174.7L2084.0 174.5L2086.0 174.3L2088.0 174.2L2090.0 174.0L2091.9 173.8L2093.9 173.7L2095.9 173.5L2097.9 173.3L2099.9 173.2L2102.0 173.1L2104.0 172.9L2106.0 172.8L2108.0 172.7L2110.0 172.6L2112.0 172.4L2114.0 172.3L2116.0 172.2L2118.0 172.1L2120.0 172.0" stroke="#027fc4" stroke-width="11.5" fill="none" stroke-linecap="round" stroke-linejoin="round"/>
<path d="M494.6 259.9l-0.7 4.4M538.1 243.0l3.6 2.7M590.8 232.1l-1.7 4.2M637.9 228.8l3.8 2.5M698.3 224.9l-4.0 2.1M738.1 219.7l1.0 4.4M779.7 219.4l3.4 2.9M825.4 215.7l0.5 4.5M872.4 214.0l-0.1 4.5M919.3 213.6l3.9 2.2M976.9 211.8l-4.2 1.5M1020.6 208.7l0.9 4.4M1075.3 208.7l-0.6 4.5M1117.8 207.3l1.3 4.3M1163.3 205.9l-4.5 0.1M1221.4 204.4l-3.3 3.0M1262.2 202.3l2.0 4.1M1308.2 200.4l-0.1 4.5M1355.5 199.7l-3.9 2.3M1409.1 196.3l-3.6 2.7M1455.5 193.8l-2.2 3.9M1501.6 192.8l2.0 4.0M1553.2 189.8l2.5 3.7M1595.0 190.0l3.5 2.8M1643.5 188.1l3.9 2.3M1703.3 184.2l-4.1 1.8M1753.5 182.5l3.5 2.9M1809.1 179.3l3.0 3.3M1867.3 177.2l-1.5 4.2M1922.3 174.0l-1.3 4.3M1969.8 174.4l3.2 3.1M2013.3 173.2l4.5 0.1M2065.9 171.0l4.3 1.3M2114.1 168.6l0.4 4.5M496.0 270.3l4.4 0.7M545.3 261.2l-4.1 1.8M591.1 258.1l-3.6 2.7M628.6 256.6l4.3 1.2M671.9 255.3l4.4 0.7M717.8 253.0l-2.3 3.9M765.5 253.5l-1.7 4.2M810.0 256.1l0.7 4.4M855.4 255.9l-0.1 4.5M904.3 256.5l0.7 4.4M959.9 259.4l-0.0 4.5M1017.1 259.4l-3.2 3.2M1070.9 258.8l0.8 4.4M1125.2 255.6l-4.4 0.8M1167.1 252.2l3.6 2.7M1220.1 249.1l-4.3 1.2M1267.6 242.3l3.5 2.9M1313.5 238.4l-4.2 1.7M1367.1 234.1l-4.4 0.8M1415.6 225.5l3.6 2.7M1475.1 218.9l-1.0 4.4M1530.5 213.5l-3.0 3.4M1580.4 207.6l0.9 4.4M1630.6 205.8l-2.8 3.5M1682.3 199.7l-1.7 4.2M1730.8 197.4l1.6 4.2M1787.1 193.1l-3.5 2.9M1836.7 192.9l-4.5 0.3M1879.8 189.7l4.2 1.7M1936.1 182.9l-0.5 4.5M1980.1 180.6l3.6 2.6M2033.6 177.0l-2.8 3.5M2076.9 177.1l-4.2 1.6" fill="none" stroke="#00c800" stroke-width="10.5" stroke-linecap="round"/>
<path d="M2120.0 172.0L2117.8 171.4L2115.8 171.6L2113.8 171.9L2111.8 172.1L2109.9 172.4L2107.9 172.6L2105.9 172.9L2103.9 173.2L2101.9 173.4L2100.0 173.7L2098.0 173.9L2096.0 174.2L2094.0 174.4L2092.0 174.7L2090.0 175.0L2088.1 175.2L2086.1 175.5L2084.1 175.8L2082.1 176.0L2080.1 176.3L2078.2 176.6L2076.2 176.8L2074.2 177.1L2072.2 177.4L2070.2 177.6L2068.3 177.9L2066.3 178.2L2064.3 178.4L2062.3 178.7L2060.3 179.0L2058.4 179.3L2056.4 179.5L2054.4 179.8L2052.4 180.1L2050.4 180.4L2048.5 180.7L2046.5 180.9L2044.5 181.2L2042.5 181.5L2040.5 181.8L2038.6 182.1L2036.6 182.3L2034.6 182.6L2032.6 182.9L2030.6 183.2L2028.7 183.5L2026.7 183.8L2024.7 184.0L2022.7 184.3L2020.7 184.6L2018.8 184.9L2016.8 185.2L2014.8 185.5L2012.8 185.8L2010.9 186.1L2008.9 186.4L2006.9 186.6L2004.9 186.9L2002.9 187.2L2001.0 187.5L1999.0 187.8L1997.0 188.1L1995.0 188.4L1993.0 188.7L1991.1 189.0L1989.1 189.3L1987.1 189.6L1985.1 189.9L1983.2 190.2L1981.2 190.5L1979.2 190.8L1977.2 191.1L1975.2 191.4L1973.3 191.7L1971.3 192.0L1969.3 192.3L1967.3 192.6L1965.3 192.9L1963.4 193.2L1961.4 193.5L1959.4 193.8L1957.4 194.1L1955.5 194.4L1953.5 194.7L1951.5 195.0L1949.5 195.3L1947.5 195.6L1945.6 195.9L1943.6 196.2L1941.6 196.5L1939.6 196.8L1937.6 197.1L1935.7 197.4L1933.7 197.7L1931.7 198.0L1929.7 198.3L1927.7 198.6L1925.8 198.9L1923.8 199.3L1921.8 199.6L1919.8 199.9L1917.8 200.2L1915.9 200.5L1913.9 200.8L1911.9 201.1L1909.9 201.4L1908.0 201.7L1906.0 202.0L1904.0 202.3L1902.0 202.6L1900.0 202.9L1898.1 203.2L1896.1 203.5L1894.1 203.9L1892.1 204.2L1890.1 204.5L1888.2 204.8L1886.2 205.1L1884.2 205.4L1882.2 205.7L1880.2 206.0L1878.2 206.3L1876.3 206.6L1874.3 206.9L1872.3 207.2L1870.3 207.5L1868.3 207.8L1866.4 208.2L1864.4 208.5L1862.4 208.8L1860.4 209.1L1858.4 209.4L1856.4 209.7L1854.5 210.0L1852.5 210.3L1850.5 210.6L1848.5 210.9L1846.5 211.2L1844.6 211.5L1842.6 211.8L1840.6 212.1L1838.6 212.4L1836.6 212.7L1834.6 213.0L1832.7 213.3L1830.7 213.7L1828.7 214.0L1826.7 214.3L1824.7 214.6L1822.7 214.9L1820.8 215.2L1818.8 215.5L1816.8 215.8L1814.8 216.1L1812.8 216.4L1810.8 216.7L1808.8 217.0L1806.9 217.3L1804.9 217.6L1802.9 217.9L1800.9 218.2L1798.9 218.5L1796.9 218.8L1795.0 219.1L1793.0 219.4L1791.0 219.7L1789.0 220.0L1787.0 220.3L1785.0 220.7L1783.1 221.0L1781.1 221.3L1779.1 221.6L1777.1 221.9L1775.1 222.2L1773.1 222.5L1771.1 222.8L1769.2 223.1L1767.2 223.4L1765.2 223.7L1763.2 224.1L1761.2 224.4L1759.2 224.7L1757.3 225.0L1755.3 225.3L1753.3 225.6L1751.3 225.9L1749.3 226.3L1747.4 226.6L1745.4 226.9L1743.4 227.2L1741.4 227.5L1739.4 227.8L1737.4 228.2L1735.5 228.5L1733.5 228.8L1731.5 229.1L1729.5 229.5L1727.5 229.8L1725.6 230.1L1723.6 230.4L1721.6 230.8L1719.6 231.1L1717.6 231.4L1715.7 231.8L1713.7 232.1L1711.7 232.4L1709.7 232.8L1707.8 233.1L1705.8 233.4L1703.8 233.8L1701.8 234.1L1699.9 234.5L1697.9 234.8L1695.9 235.1L1693.9 235.5L1691.9 235.8L1690.0 236.2L1688.0 236.5L1686.0 236.9L1684.1 237.2L1682.1 237.6L1680.1 237.9L1678.1 238.3L1676.2 238.7L1674.2 239.0L1672.2 239.4L1670.3 239.7L1668.3 240.1L1666.3 240.5L1664.3 240.8L1662.4 241.2L1660.4 241.6L1658.4 241.9L1656.5 242.3L1654.5 242.7L1652.5 243.1L1650.6 243.5L1648.6 243.8L1646.6 244.2L1644.7 244.6L1642.7 245.0L1640.8 245.4L1638.8 245.8L1636.8 246.2L1634.9 246.5L1632.9 246.9L1630.9 247.3L1629.0 247.7L1627.0 248.1L1625.1 248.5L1623.1 249.0L1621.1 249.4L1619.2 249.8L1617.2 250.2L1615.3 250.6L1613.3 251.0L1611.4 251.4L1609.4 251.9L1607.5 252.3L1605.5 252.7L1603.6 253.1L1601.6 253.6L1599.7 254.0L1597.7 254.4L1595.8 254.9L1593.8 255.3L1591.9 255.7L1589.9 256.2L1588.0 256.6L1586.0 257.1L1584.1 257.5L1582.1 258.0L1580.2 258.5L1578.2 258.9L1576.3 259.4L1574.4 259.8L1572.4 260.3L1570.5 260.8L1568.5 261.2L1566.6 261.7L1564.7 262.2L1562.7 262.7L1560.8 263.2L1558.8 263.6L1556.9 264.1L1555.0 264.6L1553.0 265.1L1551.1 265.6L1549.2 266.1L1547.2 266.6L1545.3 267.1L1543.4 267.6L1541.5 268.1L1539.5 268.6L1537.6 269.2L1535.7 269.7L1533.8 270.2L1531.8 270.7L1529.9 271.2L1528.0 271.8L1526.1 272.3L1524.1 272.8L1522.2 273.4L1520.3 273.9L1518.4 274.5L1516.5 275.0L1514.5 275.6L1512.6 276.1L1510.7 276.7L1508.8 277.2L1506.9 277.8L1505.0 278.3L1503.1 278.9L1501.2 279.5L1499.2 280.0L1497.3 280.6L1495.4 281.2L1493.5 281.8L1491.6 282.4L1489.7 282.9L1487.8 283.5L1485.9 284.1L1484.0 284.7L1482.1 285.3L1480.2 285.9L1478.3 286.5L1476.4 287.1L1474.5 287.7L1472.6 288.3L1470.7 289.0L1468.8 289.6L1466.9 290.2L1465.0 290.8L1463.1 291.5L1461.2 292.1L1459.4 292.7L1457.5 293.4L1455.6 294.0L1453.7 294.6L1451.8 295.3L1449.9 295.9L1448.0 296.6L1446.2 297.2L1444.3 297.9L1442.4 298.6L1440.5 299.2L1438.6 299.9L1436.8 300.6L1434.9 301.2L1433.0 301.9L1431.1 302.6L1429.3 303.3L1427.4 304.0L1425.5 304.7L1423.6 305.4L1421.8 306.1L1419.9 306.8L1418.0 307.5L1416.2 308.2L1414.3 308.9L1412.4 309.6L1410.6 310.3L1408.7 311.0L1406.9 311.7L1405.0 312.5L1403.1 313.2L1401.3 313.9L1399.4 314.6L1397.6 315.4L1395.7 316.1L1393.8 316.9L1392.0 317.6L1390.1 318.3L1388.3 319.1L1386.4 319.8L1384.6 320.6L1382.7 321.4L1380.9 322.1L1379.0 322.9L1377.2 323.6L1375.3 324.4L1373.5 325.2L1371.7 325.9L1369.8 326.7L1368.0 327.5L1366.1 328.3L1364.3 329.0L1362.4 329.8L1360.6 330.6L1358.8 331.4L1356.9 332.2L1355.1 333.0L1353.3 333.8L1351.4 334.6L1349.6 335.4L1347.7 336.2L1345.9 337.0L1344.1 337.8L1342.2 338.6L1340.4 339.4L1338.6 340.2L1336.7 341.0L1334.9 341.8L1333.1 342.6L1331.3 343.4L1329.4 344.2L1327.6 345.1L1325.8 345.9L1323.9 346.7L1322.1 347.5L1320.3 348.4L1318.5 349.2L1316.6 350.0L1314.8 350.8L1313.0 351.7L1311.2 352.5L1309.4 353.3L1307.5 354.2L1305.7 355.0L1303.9 355.9L1302.1 356.7L1300.3 357.5L1298.4 358.4L1296.6 359.2L1294.8 360.1L1293.0 360.9L1291.2 361.8L1289.3 362.6L1287.5 363.5L1285.7 364.3L1283.9 365.2L1282.1 366.0L1280.3 366.9L1278.4 367.7L1276.6 368.6L1274.8 369.4L1273.0 370.3L1271.2 371.1L1269.4 372.0L1267.6 372.9L1265.8 373.7L1263.9 374.6L1262.1 375.4L1260.3 376.3L1258.5 377.2L1256.7 378.0L1254.9 378.9L1253.1 379.8L1251.3 380.6L1249.5 381.5L1247.7 382.4L1245.8 383.2L1244.0 384.1L1242.2 385.0L1240.4 385.8L1238.6 386.7L1236.8 387.6L1235.0 388.4L1233.2 389.3L1231.4 390.2L1229.6 391.0L1227.8 391.9L1226.0 392.8L1224.1 393.6L1222.3 394.5L1220.5 395.4L1218.7 396.3L1216.9 397.1L1215.1 398.0L1213.3 398.9L1211.5 399.7L1209.7 400.6L1207.9 401.5L1206.1 402.3L1204.3 403.2L1202.5 404.1L1200.7 405.0L1198.9 405.8L1197.1 406.7L1195.3 407.6L1193.4 408.4L1191.6 409.3L1189.8 410.2L1188.0 411.0L1186.2 411.9L1184.4 412.8L1182.6 413.6L1180.8 414.5L1179.0 415.4L1177.2 416.3L1175.4 417.1L1173.6 418.0L1171.8 418.9L1170.0 419.7L1168.2 420.6L1166.4 421.5L1164.6 422.3L1162.8 423.2L1161.0 424.1L1159.1 424.9L1157.3 425.8L1155.5 426.7L1153.7 427.5L1151.9 428.4L1150.1 429.2L1148.3 430.1L1146.5 431.0L1144.7 431.8L1142.9 432.7L1141.1 433.6L1139.3 434.4L1137.5 435.3L1135.7 436.2L1133.9 437.0L1132.1 437.9L1130.2 438.7L1128.4 439.6L1126.6 440.5L1124.8 441.3L1123.0 442.2L1121.2 443.0L1119.4 443.9L1117.6 444.7L1115.8 445.6L1114.0 446.5L1112.2 447.3L1110.4 448.2L1108.5 449.0L1106.7 449.9L1104.9 450.7L1103.1 451.6L1101.3 452.4L1099.5 453.3L1097.7 454.1L1095.9 455.0L1094.1 455.8L1092.2 456.7L1090.4 457.5L1088.6 458.4L1086.8 459.2L1085.0 460.1L1083.2 460.9L1081.4 461.8L1079.6 462.6L1077.7 463.5L1075.9 464.3L1074.1 465.1L1072.3 466.0L1070.5 466.8L1068.7 467.7L1066.9 468.5L1065.0 469.3L1063.2 470.2L1061.4 471.0L1059.6 471.9L1057.8 472.7L1056.0 473.5L1054.1 474.4L1052.3 475.2L1050.5 476.0L1048.7 476.9L1046.9 477.7L1045.0 478.5L1043.2 479.3L1041.4 480.2L1039.6 481.0L1037.7 481.8L1035.9 482.6L1034.1 483.5L1032.3 484.3L1030.5 485.1L1028.6 485.9L1026.8 486.8L1025.0 487.6L1023.2 488.4L1021.3 489.2L1019.5 490.0L1017.7 490.8L1015.9 491.7L1014.0 492.5L1012.2 493.3L1010.4 494.1L1008.5 494.9L1006.7 495.7L1004.9 496.5L1003.1 497.3L1001.2 498.2L999.4 499.0L997.6 499.8L995.7 500.6L993.9 501.4L992.1 502.2L990.2 503.0L988.4 503.8L986.6 504.6L984.7 505.4L982.9 506.2L981.1 507.0L979.2 507.8L977.4 508.6L975.6 509.4L973.7 510.2L971.9 511.0L970.1 511.8L968.2 512.6L966.4 513.4L964.6 514.2L962.7 515.0L960.9 515.8L959.1 516.6L957.2 517.4L955.4 518.2L953.5 519.0L951.7 519.7L949.9 520.5L948.0 521.3L946.2 522.1L944.4 522.9L942.5 523.7L940.7 524.5L938.8 525.3L937.0 526.1L935.2 526.8L933.3 527.6L931.5 528.4L929.6 529.2L927.8 530.0L926.0 530.8L924.1 531.6L922.3 532.3L920.4 533.1L918.6 533.9L916.7 534.7L914.9 535.5L913.1 536.2L911.2 537.0L909.4 537.8L907.5 538.6L905.7 539.4L903.8 540.1L902.0 540.9L900.1 541.7L898.3 542.5L896.5 543.3L894.6 544.0L892.8 544.8L890.9 545.6L889.1 546.4L887.2 547.1L885.4 547.9L883.5 548.7L881.7 549.5L879.8 550.2L878.0 551.0L876.2 551.8L874.3 552.6L872.5 553.3L870.6 554.1L868.8 554.9L866.9 555.6L865.1 556.4L863.2 557.2L861.4 558.0L859.5 558.7L857.7 559.5L855.8 560.3L854.0 561.0L852.1 561.8L850.3 562.6L848.4 563.3L846.6 564.1L844.7 564.9L842.9 565.7L841.0 566.4L839.2 567.2L837.3 568.0L835.5 568.7L833.6 569.5L831.8 570.3L829.9 571.0L828.1 571.8L826.2 572.6L824.4 573.3L822.5 574.1L820.7 574.9L818.8 575.6L817.0 576.4L815.1 577.2L813.3 577.9L811.4 578.7L809.6 579.5L807.7 580.2L805.9 581.0L804.0 581.8L802.1 582.5L800.3 583.3L798.4 584.0L796.6 584.8L794.7 585.6L792.9 586.3L791.0 587.1L789.2 587.9L787.3 588.6L785.5 589.4L783.6 590.2L781.8 590.9L779.9 591.7L778.1 592.5L776.2 593.2L774.4 594.0L772.5 594.8L770.7 595.5L768.8 596.3L766.9 597.1L765.1 597.8L763.2 598.6L761.4 599.3L759.5 600.1L757.7 600.9L755.8 601.6L754.0 602.4L752.1 603.2L750.3 603.9L748.4 604.7L746.6 605.5L744.7 606.2L742.9 607.0L741.0 607.8L739.1 608.5L737.3 609.3L735.4 610.1L733.6 610.8L731.7 611.6L729.9 612.4L728.0 613.1L726.2 613.9L724.3 614.7L722.5 615.4L720.6 616.2L718.8 617.0L716.9 617.8L715.1 618.5L713.2 619.3L711.3 620.1L709.5 620.8L707.6 621.6L705.8 622.4L703.9 623.1L702.1 623.9L700.2 624.7L698.4 625.5L696.5 626.2L694.7 627.0L692.8 627.8L691.0 628.5L689.1 629.3L687.3 630.1L685.4 630.9L683.6 631.7L681.7 632.4L679.9 633.2L678.0 634.0L676.2 634.8L674.3 635.6L672.5 636.4L670.7 637.1L668.8 637.9L667.0 638.7L665.1 639.5L663.3 640.3L661.5 641.1L659.6 641.9L657.8 642.7L656.0 643.5L654.1 644.3L652.3 645.1L650.5 645.9L648.6 646.8L646.8 647.6L645.0 648.4L643.2 649.2L641.3 650.0L639.5 650.9L637.7 651.7L635.9 652.5L634.1 653.4L632.3 654.2L630.4 655.0L628.6 655.9L626.8 656.7L625.0 657.6L623.2 658.4L621.4 659.3L619.6 660.2L617.8 661.0L616.0 661.9L614.2 662.8L612.5 663.6L610.7 664.5L608.9 665.4L607.1 666.3L605.3 667.2L603.5 668.1L601.8 669.0L600.0 669.9L598.2 670.8L596.5 671.7L594.7 672.6L592.9 673.6L591.2 674.5L589.4 675.4L587.7 676.4L585.9 677.3L584.2 678.2L582.5 679.2L580.7 680.2L579.0 681.1L577.3 682.1L575.5 683.1L573.8 684.0L572.1 685.0L570.4 686.0L568.6 687.0L566.9 688.0L565.2 689.0L563.5 690.0L561.8 691.0L560.1 692.1L558.4 693.1L556.8 694.1L555.1 695.2L553.4 696.2L551.7 697.3L550.0 698.3L548.4 699.4L546.7 700.5L545.1 701.5L543.4 702.6L541.7 703.7L540.1 704.8L538.5 705.9L536.8 707.0L535.2 708.2L533.6 709.3L531.9 710.4L530.3 711.6L528.7 712.7L527.1 713.9L525.5 715.0L523.9 716.2L522.3 717.4L520.7 718.6L519.1 719.8L517.5 721.0L516.0 722.2L514.4 723.4L512.8 724.6L511.3 725.9L509.7 727.1L508.2 728.4L506.6 729.6L505.1 730.9L503.5 732.2L502.0 733.4L500.5 734.7L499.0 736.0L497.5 737.3L495.9 738.7L494.4 740.0L492.9 741.3L491.5 742.7L490.0 744.0L488.5 745.4L487.0 746.7L485.6 748.1L484.1 749.5L482.6 750.9L481.2 752.3L479.8 753.7L478.3 755.2L476.9 756.6L475.5 758.0L474.0 759.5L474.5 763.0L475.9 764.2L477.9 764.6L480.0 765.0L482.0 765.3L484.0 765.7L486.1 766.0L488.1 766.4L490.1 766.8L492.1 767.1L494.1 767.5L496.1 767.9L498.1 768.3L500.2 768.6L502.2 769.0L504.2 769.4L506.2 769.7L508.2 770.1L510.2 770.5L512.2 770.9L514.2 771.3L516.1 771.7L518.1 772.0L520.1 772.4L522.1 772.8L524.1 773.2L526.1 773.6L528.1 774.0L530.0 774.4L532.0 774.8L534.0 775.2L536.0 775.6L538.0 776.0L539.9 776.4L541.9 776.8L543.9 777.2L545.8 777.6L547.8 778.0L549.8 778.4L551.7 778.8L553.7 779.2L555.6 779.6L557.6 780.1L559.6 780.5L561.5 780.9L563.5 781.3L565.4 781.7L567.4 782.2L569.3 782.6L571.3 783.0L573.2 783.5L575.2 783.9L577.1 784.3L579.0 784.8L581.0 785.2L582.9 785.6L584.9 786.1L586.8 786.5L588.7 787.0L590.7 787.4L592.6 787.9L594.5 788.3L596.5 788.8L598.4 789.2L600.3 789.7L602.3 790.1L604.2 790.6L606.1 791.1L608.0 791.5L610.0 792.0L611.9 792.5L613.8 792.9L615.7 793.4L617.7 793.9L619.6 794.4L621.5 794.8L623.4 795.3L625.3 795.8L627.2 796.3L629.2 796.8L631.1 797.3L633.0 797.8L634.9 798.3L636.8 798.7L638.7 799.2L640.6 799.7L642.5 800.3L644.5 800.8L646.4 801.3L648.3 801.8L650.2 802.3L652.1 802.8L654.0 803.3L655.9 803.8L657.8 804.4L659.7 804.9L661.6 805.4L663.5 805.9L665.4 806.5L667.3 807.0L669.2 807.5L671.1 808.1L673.0 808.6L674.9 809.2L676.8 809.7L678.7 810.3L680.6 810.8L682.5 811.4L684.4 811.9L686.3 812.5L688.2 813.0L690.1 813.6L692.0 814.2L693.9 814.7L695.8 815.3L697.7 815.9L699.6 816.4L701.5 817.0L703.4 817.6L705.3 818.2L707.2 818.8L709.1 819.4L711.0 820.0L712.9 820.6L714.8 821.1L716.7 821.7L718.6 822.4L720.5 823.0L722.3 823.6L724.2 824.2L726.1 824.8L728.0 825.4L729.9 826.0L731.8 826.6L733.7 827.3L735.6 827.9L737.5 828.5L739.4 829.2L741.3 829.8L743.2 830.4L745.1 831.1L747.0 831.7L748.9 832.4L750.8 833.0L752.7 833.7L754.6 834.3L756.5 835.0L758.4 835.7L760.3 836.3L762.2 837.0L764.1 837.7L766.0 838.3L767.9 839.0L769.8 839.7L771.7 840.4L773.6 841.1L775.5 841.8L777.4 842.5L779.3 843.1L781.2 843.8L783.1 844.5L785.0 845.3L786.9 846.0L788.8 846.7L790.8 847.4L792.7 848.1L794.6 848.8L796.5 849.6L798.4 850.3L800.3 851.0L802.2 851.8L804.1 852.5L806.0 853.2L808.0 854.0L809.9 854.7L811.8 855.5L813.7 856.2L815.6 857.0L817.5 857.7L819.5 858.5L821.4 859.3L823.3 860.0L825.2 860.8L827.1 861.5L829.1 862.3L831.0 863.1L832.9 863.8L834.8 864.6L836.8 865.3L838.7 866.1L840.6 866.8L842.5 867.6L844.5 868.3L846.4 869.1L848.3 869.8L850.2 870.5L852.2 871.3L854.1 872.0L856.0 872.7L857.9 873.4L859.9 874.1L861.8 874.8L863.7 875.5L865.6 876.2L867.6 876.9L869.5 877.5L871.4 878.2L873.4 878.9L875.3 879.5L877.2 880.1L879.1 880.8L881.1 881.4L883.0 882.0L884.9 882.6L886.8 883.2L888.8 883.7L890.7 884.3L892.6 884.9L894.5 885.4L896.4 885.9L898.4 886.4L900.3 886.9L902.2 887.4L904.1 887.9L906.0 888.3L908.0 888.8L909.9 889.2L911.8 889.6L913.7 890.0L915.6 890.4L917.6 890.7L919.5 891.1L921.4 891.4L923.3 891.7L925.2 892.0L927.1 892.3L929.0 892.5L930.9 892.8L932.8 893.0L934.7 893.2L936.7 893.4L938.6 893.5L940.5 893.6L942.4 893.8L944.3 893.8L946.2 893.9L948.1 894.0L950.0 894.0L951.9 894.0L953.7 894.0L955.6 893.9L957.5 893.9L959.4 893.8L961.3 893.6L963.2 893.5L965.1 893.3L967.0 893.1L968.9 892.9L970.7 892.7L972.6 892.4L974.5 892.1L976.4 891.8L978.2 891.4L980.1 891.1L982.0 890.7L983.8 890.2L985.7 889.8L987.6 889.3L989.4 888.8L991.3 888.3L993.1 887.8L995.0 887.2L996.8 886.7L998.6 886.1L1000.5 885.4L1002.3 884.8L1004.1 884.1L1005.9 883.5L1007.8 882.8L1009.6 882.0L1011.4 881.3L1013.2 880.5L1015.0 879.8L1016.8 879.0L1018.6 878.1L1020.3 877.3L1022.1 876.4L1023.9 875.6L1025.6 874.7L1027.4 873.8L1029.2 872.8L1030.9 871.9L1032.6 870.9L1034.4 870.0L1036.1 869.0L1037.8 868.0L1039.5 867.0L1041.2 865.9L1042.9 864.9L1044.6 863.8L1046.3 862.7L1048.0 861.6L1049.6 860.5L1051.3 859.4L1052.9 858.2L1054.6 857.1L1056.2 855.9L1057.8 854.8L1059.5 853.6L1061.1 852.4L1062.7 851.2L1064.3 849.9L1065.9 848.7L1067.5 847.4L1069.0 846.2L1070.6 844.9L1072.2 843.6L1073.7 842.3L1075.3 841.0L1076.8 839.7L1078.4 838.4L1079.9 837.0L1081.4 835.7L1083.0 834.3L1084.5 833.0L1086.0 831.6L1087.5 830.2L1089.0 828.8L1090.4 827.4L1091.9 826.0L1093.4 824.5L1094.9 823.1L1096.3 821.7L1097.8 820.2L1099.2 818.8L1100.7 817.3L1102.1 815.8L1103.5 814.4L1105.0 812.9L1106.4 811.4L1107.8 809.9L1109.2 808.4L1110.6 806.9L1112.0 805.4L1113.4 803.8L1114.8 802.3L1116.2 800.8L1117.5 799.2L1118.9 797.7L1120.3 796.2L1121.6 794.6L1123.0 793.0L1124.3 791.5L1125.7 789.9L1127.0 788.4L1128.4 786.8L1129.7 785.2L1131.0 783.6L1132.3 782.0L1133.7 780.5L1135.0 778.9L1136.3 777.3L1137.6 775.7L1138.9 774.1L1140.2 772.5L1141.4 770.9L1142.7 769.3L1144.0 767.7L1145.3 766.1L1146.5 764.5L1147.8 762.9L1149.1 761.3L1150.3 759.7L1151.6 758.0L1152.8 756.4L1154.1 754.8L1155.3 753.2L1156.6 751.6L1157.8 750.0L1159.0 748.3L1160.3 746.7L1161.5 745.1L1162.7 743.5L1163.9 741.8L1165.1 740.2L1166.3 738.6L1167.6 737.0L1168.8 735.3L1170.0 733.7L1171.2 732.1L1172.4 730.4L1173.6 728.8L1174.7 727.2L1175.9 725.5L1177.1 723.9L1178.3 722.3L1179.5 720.6L1180.7 719.0L1181.8 717.4L1183.0 715.7L1184.2 714.1L1185.3 712.4L1186.5 710.8L1187.7 709.1L1188.8 707.5L1190.0 705.9L1191.2 704.2L1192.3 702.6L1193.5 700.9L1194.6 699.3L1195.8 697.6L1196.9 696.0L1198.1 694.3L1199.2 692.7L1200.4 691.1L1201.5 689.4L1202.7 687.8L1203.8 686.1L1204.9 684.5L1206.1 682.8L1207.2 681.2L1208.4 679.5L1209.5 677.9L1210.6 676.2L1211.8 674.6L1212.9 672.9L1214.0 671.3L1215.2 669.7L1216.3 668.0L1217.4 666.4L1218.6 664.7L1219.7 663.1L1220.8 661.4L1222.0 659.8L1223.1 658.1L1224.2 656.5L1225.4 654.9L1226.5 653.2L1227.6 651.6L1228.8 649.9L1229.9 648.3L1231.0 646.7L1232.2 645.0L1233.3 643.4L1234.4 641.7L1235.6 640.1L1236.7 638.5L1237.9 636.8L1239.0 635.2L1240.1 633.6L1241.3 631.9L1242.4 630.3L1243.6 628.7L1244.7 627.1L1245.8 625.4L1247.0 623.8L1248.1 622.2L1249.3 620.5L1250.4 618.9L1251.6 617.3L1252.7 615.7L1253.9 614.1L1255.1 612.4L1256.2 610.8L1257.4 609.2L1258.5 607.6L1259.7 606.0L1260.9 604.4L1262.0 602.8L1263.2 601.2L1264.4 599.6L1265.5 597.9L1266.7 596.3L1267.9 594.7L1269.1 593.1L1270.3 591.5L1271.5 590.0L1272.6 588.4L1273.8 586.8L1275.0 585.2L1276.2 583.6L1277.4 582.0L1278.6 580.4L1279.8 578.8L1281.0 577.3L1282.3 575.7L1283.5 574.1L1284.7 572.5L1285.9 571.0L1287.1 569.4L1288.4 567.8L1289.6 566.2L1290.8 564.7L1292.1 563.1L1293.3 561.6L1294.6 560.0L1295.8 558.5L1297.1 556.9L1298.3 555.4L1299.6 553.8L1300.9 552.3L1302.1 550.7L1303.4 549.2L1304.7 547.6L1305.9 546.1L1307.2 544.6L1308.5 543.0L1309.8 541.5L1311.1 540.0L1312.4 538.5L1313.7 536.9L1314.9 535.4L1316.2 533.9L1317.6 532.4L1318.9 530.9L1320.2 529.4L1321.5 527.9L1322.8 526.4L1324.1 524.9L1325.4 523.4L1326.8 521.9L1328.1 520.4L1329.4 518.9L1330.8 517.4L1332.1 515.9L1333.4 514.4L1334.8 512.9L1336.1 511.4L1337.5 510.0L1338.8 508.5L1340.2 507.0L1341.6 505.6L1342.9 504.1L1344.3 502.6L1345.7 501.2L1347.0 499.7L1348.4 498.3L1349.8 496.8L1351.2 495.4L1352.6 493.9L1353.9 492.5L1355.3 491.0L1356.7 489.6L1358.1 488.2L1359.5 486.7L1360.9 485.3L1362.3 483.9L1363.7 482.4L1365.2 481.0L1366.6 479.6L1368.0 478.2L1369.4 476.8L1370.8 475.4L1372.3 474.0L1373.7 472.6L1375.1 471.2L1376.6 469.8L1378.0 468.4L1379.4 467.0L1380.9 465.6L1382.3 464.2L1383.8 462.8L1385.2 461.4L1386.7 460.1L1388.2 458.7L1389.6 457.3L1391.1 456.0L1392.5 454.6L1394.0 453.2L1395.5 451.9L1397.0 450.5L1398.4 449.2L1399.9 447.8L1401.4 446.5L1402.9 445.1L1404.4 443.8L1405.9 442.5L1407.4 441.1L1408.9 439.8L1410.4 438.5L1411.9 437.1L1413.4 435.8L1414.9 434.5L1416.4 433.2L1417.9 431.9L1419.5 430.6L1421.0 429.3L1422.5 428.0L1424.0 426.7L1425.6 425.4L1427.1 424.1L1428.6 422.8L1430.2 421.5L1431.7 420.3L1433.3 419.0L1434.8 417.7L1436.4 416.4L1437.9 415.2L1439.5 413.9L1441.0 412.7L1442.6 411.4L1444.1 410.1L1445.7 408.9L1447.3 407.7L1448.8 406.4L1450.4 405.2L1452.0 403.9L1453.6 402.7L1455.2 401.5L1456.7 400.3L1458.3 399.0L1459.9 397.8L1461.5 396.6L1463.1 395.4L1464.7 394.2L1466.3 393.0L1467.9 391.8L1469.5 390.6L1471.1 389.4L1472.7 388.2L1474.3 387.1L1476.0 385.9L1477.6 384.7L1479.2 383.5L1480.8 382.4L1482.5 381.2L1484.1 380.0L1485.7 378.9L1487.3 377.7L1489.0 376.6L1490.6 375.4L1492.3 374.3L1493.9 373.2L1495.6 372.0L1497.2 370.9L1498.9 369.8L1500.5 368.7L1502.2 367.5L1503.8 366.4L1505.5 365.3L1507.2 364.2L1508.8 363.1L1510.5 362.0L1512.2 360.9L1513.8 359.8L1515.5 358.8L1517.2 357.7L1518.9 356.6L1520.6 355.5L1522.3 354.5L1523.9 353.4L1525.6 352.3L1527.3 351.3L1529.0 350.2L1530.7 349.2L1532.4 348.1L1534.1 347.1L1535.8 346.1L1537.5 345.0L1539.3 344.0L1541.0 343.0L1542.7 342.0L1544.4 340.9L1546.1 339.9L1547.8 338.9L1549.6 337.9L1551.3 336.9L1553.0 335.9L1554.8 335.0L1556.5 334.0L1558.2 333.0L1560.0 332.0L1561.7 331.0L1563.5 330.1L1565.2 329.1L1567.0 328.2L1568.7 327.2L1570.5 326.3L1572.2 325.3L1574.0 324.4L1575.7 323.4L1577.5 322.5L1579.3 321.6L1581.0 320.7L1582.8 319.7L1584.6 318.8L1586.3 317.9L1588.1 317.0L1589.9 316.1L1591.7 315.2L1593.5 314.3L1595.3 313.4L1597.0 312.6L1598.8 311.7L1600.6 310.8L1602.4 310.0L1604.2 309.1L1606.0 308.2L1607.8 307.4L1609.6 306.5L1611.4 305.7L1613.2 304.8L1615.0 304.0L1616.8 303.2L1618.7 302.4L1620.5 301.5L1622.3 300.7L1624.1 299.9L1625.9 299.1L1627.8 298.3L1629.6 297.5L1631.4 296.7L1633.2 295.9L1635.1 295.2L1636.9 294.4L1638.8 293.6L1640.6 292.8L1642.4 292.1L1644.3 291.3L1646.1 290.6L1648.0 289.8L1649.8 289.1L1651.7 288.3L1653.5 287.6L1655.4 286.9L1657.2 286.2L1659.1 285.5L1661.0 284.7L1662.8 284.0L1664.7 283.3L1666.6 282.6L1668.4 281.9L1670.3 281.3L1672.2 280.6L1674.1 279.9L1675.9 279.2L1677.8 278.6L1679.7 277.9L1681.6 277.2L1683.5 276.6L1685.4 275.9L1687.2 275.3L1689.1 274.7L1691.0 274.0L1692.9 273.4L1694.8 272.8L1696.7 272.2L1698.6 271.5L1700.5 270.9L1702.4 270.3L1704.3 269.7L1706.2 269.1L1708.1 268.5L1710.1 267.9L1712.0 267.4L1713.9 266.8L1715.8 266.2L1717.7 265.6L1719.6 265.1L1721.5 264.5L1723.5 263.9L1725.4 263.4L1727.3 262.8L1729.2 262.3L1731.2 261.7L1733.1 261.2L1735.0 260.7L1737.0 260.1L1738.9 259.6L1740.8 259.1L1742.8 258.5L1744.7 258.0L1746.6 257.5L1748.6 257.0L1750.5 256.5L1752.5 256.0L1754.4 255.5L1756.3 255.0L1758.3 254.5L1760.2 254.0L1762.2 253.5L1764.1 253.0L1766.1 252.5L1768.0 252.0L1770.0 251.5L1771.9 251.1L1773.9 250.6L1775.8 250.1L1777.8 249.7L1779.8 249.2L1781.7 248.7L1783.7 248.3L1785.6 247.8L1787.6 247.4L1789.6 246.9L1791.5 246.4L1793.5 246.0L1795.4 245.6L1797.4 245.1L1799.4 244.7L1801.3 244.2L1803.3 243.8L1805.3 243.4L1807.2 242.9L1809.2 242.5L1811.2 242.1L1813.2 241.6L1815.1 241.2L1817.1 240.8L1819.1 240.4L1821.0 239.9L1823.0 239.5L1825.0 239.1L1827.0 238.7L1828.9 238.3L1830.9 237.9L1832.9 237.5L1834.9 237.0L1836.9 236.6L1838.8 236.2L1840.8 235.8L1842.8 235.4L1844.8 235.0L1846.7 234.6L1848.7 234.2L1850.7 233.8L1852.7 233.4L1854.7 233.0L1856.6 232.6L1858.6 232.2L1860.6 231.8L1862.6 231.4L1864.6 231.1L1866.6 230.7L1868.5 230.3L1870.5 229.9L1872.5 229.5L1874.5 229.1L1876.5 228.7L1878.4 228.3L1880.4 227.9L1882.4 227.5L1884.4 227.2L1886.4 226.8L1888.4 226.4L1890.3 226.0L1892.3 225.6L1894.3 225.2L1896.3 224.8L1898.3 224.5L1900.3 224.1L1902.2 223.7L1904.2 223.3L1906.2 222.9L1908.2 222.5L1910.2 222.1L1912.1 221.8L1914.1 221.4L1916.1 221.0L1918.1 220.6L1920.1 220.2L1922.0 219.8L1924.0 219.4L1926.0 219.0L1928.0 218.7L1930.0 218.3L1931.9 217.9L1933.9 217.5L1935.9 217.1L1937.9 216.7L1939.8 216.3L1941.8 215.9L1943.8 215.5L1945.8 215.1L1947.7 214.7L1949.7 214.3L1951.7 213.9L1953.7 213.5L1955.6 213.1L1957.6 212.7L1959.6 212.3L1961.5 211.9L1963.5 211.5L1965.5 211.1L1967.4 210.7L1969.4 210.3L1971.4 209.8L1973.3 209.4L1975.3 209.0L1977.3 208.6L1979.2 208.2L1981.2 207.7L1983.1 207.3L1985.1 206.9L1987.1 206.5L1989.0 206.0L1991.0 205.6L1992.9 205.2L1994.9 204.7L1996.8 204.3L1998.8 203.9L2000.7 203.4L2002.7 203.0L2004.6 202.5L2006.6 202.1L2008.5 201.6L2010.5 201.2L2012.4 200.7L2014.4 200.3L2016.3 199.8L2018.2 199.3L2020.2 198.9L2022.1 198.4L2024.1 197.9L2026.0 197.5L2027.9 197.0L2029.9 196.5L2031.8 196.0L2033.7 195.5L2035.6 195.1L2037.6 194.6L2039.5 194.1L2041.4 193.6L2043.3 193.1L2045.3 192.6L2047.2 192.1L2049.1 191.5L2051.0 191.0L2052.9 190.5L2054.9 190.0L2056.8 189.5L2058.7 188.9L2060.6 188.4L2062.5 187.9L2064.4 187.3L2066.3 186.8L2068.2 186.3L2070.1 185.7L2072.0 185.2L2073.9 184.6L2075.8 184.0L2077.7 183.5L2079.6 182.9L2081.5 182.3L2083.4 181.8L2085.2 181.2L2087.1 180.6L2089.0 180.0L2090.9 179.4L2092.8 178.8L2094.6 178.2L2096.5 177.6L2098.4 177.0L2100.3 176.4L2102.1 175.8L2104.0 175.1L2105.9 174.5L2107.7 173.9L2109.6 173.2L2111.4 172.6L2113.3 171.9L2115.2 171.3L2117.0 170.6L2120.0 172.0" stroke="#00c800" stroke-width="11" fill="none" stroke-linecap="round" stroke-linejoin="round"/>
<path d="M484.9 402.8l2.7 3.6M492.9 387.4l4.2 1.7M497.9 372.1l4.5 0.4M512.9 354.2l-2.4 3.8M519.7 340.2l3.1 3.3M533.8 326.8l0.8 4.4M546.2 316.6l2.6 3.7M563.3 309.1l-4.5 0.3M578.8 297.5l1.7 4.2M592.3 289.5l1.9 4.1M606.1 281.8l3.0 3.4M624.0 274.6l-1.2 4.3M637.0 267.0l3.6 2.7M654.7 259.0l0.2 4.5M673.8 255.6l-2.5 3.7M689.0 249.5l2.2 3.9M706.0 245.0l4.4 0.9M727.8 238.2l-2.5 3.7M744.7 233.6l-1.3 4.3M756.1 229.7l4.0 2.1M772.0 227.0l3.7 2.5M797.5 222.4l-2.7 3.6M815.6 220.4l-2.9 3.4M832.7 217.1l-2.2 3.9M852.2 212.6l-0.7 4.4M869.0 211.9l-3.5 2.8M887.8 208.6l4.3 1.3M908.3 204.4l0.2 4.5M921.8 201.0l4.4 1.0M945.3 195.3l1.2 4.3M961.3 194.2l-2.1 4.0M980.4 192.3l-4.5 0.6M993.6 186.9l4.3 1.2M1015.9 185.1l3.9 2.3M1034.0 181.8l2.2 3.9M1053.0 178.0l-3.1 3.3M1068.8 177.4l-2.9 3.4M1084.1 173.0l2.5 3.8M1105.8 172.3l-4.2 1.7M1122.1 170.7l3.6 2.7M1141.7 170.9l-2.6 3.7M1159.3 170.5l-4.1 1.8M1175.6 169.8l-4.0 2.1M1191.0 167.1l-0.6 4.5M1210.6 168.1l-3.4 2.9M1225.2 168.1l2.1 4.0M1244.3 169.7l4.5 0.6M1262.8 165.6l-0.2 4.5M1281.8 166.5l-3.9 2.3M1296.4 164.7l-4.2 1.6M1311.8 162.2l-0.5 4.5M1327.9 162.3l0.0 4.5M1349.0 161.1l-1.6 4.2M1361.6 162.4l4.0 2.1M1378.2 161.3l4.5 0.0M1398.3 157.4l-2.4 3.8M1416.6 157.4l1.5 4.2M1433.6 155.3l-1.4 4.3M1447.3 155.9l3.0 3.3M1466.8 153.7l4.0 2.0M1485.0 154.0l4.5 0.6M1504.8 150.0l-2.7 3.6M1522.5 152.6l-4.5 0.4M1539.8 148.1l0.5 4.5M1556.6 149.0l4.5 0.6M1581.9 144.6l-2.3 3.9M1599.6 141.8l-0.1 4.5M1618.8 141.0l3.2 3.2M1640.5 138.7l-2.8 3.5M1658.2 137.9l-0.0 4.5M1676.4 137.8l-2.3 3.9M1699.2 135.3l-4.4 1.1M1714.1 133.8l4.2 1.6M1733.0 131.3l4.1 1.7M1753.4 128.0l-2.3 3.8M1774.1 123.8l-1.8 4.1M1791.4 122.1l-0.8 4.4M1812.0 119.6l-2.5 3.7M1824.5 117.6l4.1 1.9M1842.0 115.9l-0.2 4.5M1864.8 118.8l-4.2 1.5M1881.2 116.1l-1.7 4.2M1895.2 113.0l4.0 2.0M1914.1 105.7l2.6 3.7M1932.9 107.6l-1.0 4.4M1952.8 110.2l2.1 4.0M1970.0 105.8l1.1 4.4M1991.8 101.3l4.5 0.6M2008.5 102.7l-0.6 4.5M2026.6 99.5l1.5 4.2M2046.6 95.7l3.7 2.6M2066.3 94.6l3.6 2.7M2082.9 97.3l4.5 0.3M2104.9 96.1l-1.7 4.2M2112.6 99.6l-3.2 3.1M2099.6 116.2l4.5 0.2M2086.1 124.7l-4.5 0.3M2071.1 132.0l-4.3 1.2M2048.8 135.5l1.9 4.1M2030.6 145.5l3.6 2.8M2017.4 152.3l-3.1 3.2M1998.4 157.9l-4.1 1.7M1982.4 163.9l-4.4 1.1M1961.7 165.7l-2.5 3.8M1940.6 171.6l4.4 1.1M1927.4 176.6l-4.5 0.6M1907.4 176.3l2.0 4.0M1891.6 177.7l-2.6 3.7M1873.4 185.0l1.9 4.1M1853.7 186.3l1.5 4.2M1835.3 190.2l-2.6 3.7M1811.8 196.2l4.5 0.2M1793.9 198.0l1.0 4.4M1777.8 199.4l-3.5 2.8M1754.8 202.3l1.5 4.2M1737.5 204.5l3.9 2.3M1720.9 202.7l0.9 4.4M1699.7 207.4l1.7 4.2M1682.8 210.7l-3.9 2.2M1663.0 210.5l-1.3 4.3M1645.4 212.3l2.1 4.0M1628.4 214.1l3.3 3.0M1613.1 216.6l-4.0 2.1M1593.6 218.0l-4.1 1.8M1571.1 220.4l4.4 1.1M1553.9 222.9l-4.4 1.0M1536.2 225.3l-4.3 1.4M1511.4 227.3l4.5 0.3M1497.0 224.9l-0.4 4.5M1473.2 230.2l4.4 0.9M1460.5 231.8l-3.2 3.2M1443.3 235.2l-3.6 2.7M1424.4 233.8l0.1 4.5M1402.3 237.6l2.9 3.4M1389.0 242.6l-3.2 3.2M1365.8 243.9l0.9 4.4M1346.4 248.9l0.2 4.5M1333.3 252.8l-4.5 0.3M1316.8 255.1l-3.7 2.5M1299.2 256.4l-2.6 3.7M1280.9 261.5l-4.5 0.3M1263.4 260.6l-1.8 4.1M1248.9 264.5l-4.0 2.1M1224.9 272.1l4.4 1.1M1210.4 273.4l-3.7 2.6M1187.1 275.0l4.5 0.0M1168.3 276.3l3.2 3.1M1154.5 279.7l-0.1 4.5M1138.8 282.8l-3.1 3.3M1122.5 286.9l-0.1 4.5M1104.1 289.0l3.0 3.4M1093.1 294.4l-4.2 1.5M1069.7 296.1l0.2 4.5M1056.0 297.0l-3.8 2.4M1034.8 298.9l-2.8 3.5M1013.4 299.6l2.4 3.8M996.2 302.4l-2.5 3.8M974.9 303.3l2.0 4.0M956.5 302.7l1.1 4.4M940.1 306.9l-4.0 2.0M918.3 306.7l4.3 1.4M902.8 307.5l-3.3 3.1M883.9 309.1l3.9 2.2M865.3 308.8l-0.2 4.5M847.3 311.9l-4.4 1.0M829.4 313.8l-4.5 0.2M810.4 314.4l4.0 2.1M791.3 317.4l4.4 1.1M772.6 317.8l-0.9 4.4M757.1 318.5l0.7 4.4M739.4 321.1l-4.3 1.2M721.4 322.9l-2.8 3.5M698.9 329.9l2.3 3.9M682.8 333.5l-0.9 4.4M663.2 337.7l2.5 3.7M648.0 336.6l-2.1 4.0M634.0 342.8l-3.8 2.4M615.2 346.8l-0.1 4.5M598.4 352.8l-1.1 4.4M580.6 355.1l-2.1 4.0M563.7 364.3l-1.0 4.4M549.6 372.5l-2.7 3.6M530.4 377.0l-1.1 4.4M517.1 385.6l-4.5 0.3M495.5 391.1l3.6 2.7M484.6 401.4l-0.2 4.5" fill="none" stroke="#ff8000" stroke-width="10.5" stroke-linecap="round"/>
<path d="M2106.3 135.1L2105.5 135.7L2107.2 135.7L2106.5 135.0L2104.2 134.6L2102.3 135.2L2101.2 137.9L2099.2 138.3L2097.5 139.4L2095.1 138.9L2093.7 140.6L2091.3 140.0L2089.2 140.1L2087.6 141.7L2085.3 141.2L2083.5 142.0L2082.2 144.2L2079.7 143.3L2078.1 144.7L2076.0 144.9L2074.2 145.8L2071.9 145.3L2070.2 146.6L2068.6 148.0L2066.3 147.5L2064.1 147.5L2062.7 149.5L2060.9 150.3L2058.8 150.5L2056.4 149.6L2054.4 150.2L2052.8 151.7L2050.7 151.7L2048.9 152.5L2047.5 154.5L2045.9 155.9L2043.4 155.1L2041.6 156.0L2040.0 157.2L2038.2 158.3L2036.2 158.5L2034.2 159.0L2032.6 160.3L2030.7 161.0L2028.6 161.2L2026.3 160.8L2024.7 162.3L2023.2 163.9L2021.3 164.6L2019.3 164.9L2017.7 166.3L2015.8 167.0L2013.6 166.9L2012.2 168.8L2009.9 168.4L2008.2 169.5L2005.9 169.3L2004.0 169.9L2002.2 170.8L2000.4 171.5L1998.8 173.1L1996.7 173.0L1995.2 174.7L1993.0 174.8L1991.4 176.2L1989.4 176.6L1988.0 178.4L1985.9 178.6L1983.3 177.3L1982.2 180.1L1979.9 179.6L1978.0 180.4L1976.1 181.0L1974.5 182.4L1972.5 182.8L1971.2 185.0L1969.4 185.8L1967.4 186.1L1965.6 187.0L1963.8 187.9L1961.9 188.6L1959.5 188.1L1958.1 189.9L1955.4 188.5L1953.8 190.0L1952.1 191.2L1950.1 191.4L1948.7 193.4L1946.1 192.3L1944.3 193.3L1942.6 194.4L1941.0 195.8L1938.7 195.6L1937.0 196.6L1935.2 197.6L1933.1 197.6L1931.5 199.2L1930.0 200.7L1927.9 200.9L1926.5 202.6L1924.6 203.4L1922.2 202.7L1920.2 203.3L1918.2 203.5L1916.4 204.6L1914.9 206.2L1913.6 208.3L1911.3 207.9L1908.9 207.5L1907.2 208.6L1905.7 210.2L1903.9 211.1L1902.3 212.5L1900.5 213.4L1898.8 214.4L1896.0 212.9L1894.4 214.4L1893.2 216.5L1891.0 216.6L1889.6 218.3L1887.5 218.7L1885.1 218.0L1883.3 219.0L1881.7 220.2L1880.1 221.6L1877.8 221.3L1875.6 221.2L1874.3 223.5L1872.9 225.3L1871.1 226.1L1869.2 226.8L1866.3 225.1L1865.0 227.1L1862.8 227.0L1861.7 229.7L1859.8 230.2L1857.4 229.8L1855.3 230.0L1854.1 232.3L1852.6 233.9L1849.8 232.5L1848.7 234.8L1846.3 234.4L1845.1 236.8L1842.6 236.1L1840.6 236.5L1838.9 237.6L1837.5 239.4L1835.2 239.2L1834.1 241.6L1832.0 241.9L1830.1 242.4L1827.7 242.0L1826.7 244.8L1824.0 243.6L1822.3 244.6L1820.2 244.9L1819.1 247.4L1817.5 248.7L1815.6 249.4L1813.0 248.6L1811.0 249.0L1809.5 250.6L1808.0 252.0L1806.4 253.3L1803.9 252.6L1802.0 253.3L1801.1 256.3L1799.1 256.8L1796.6 255.9L1794.7 256.7L1793.5 259.0L1791.7 259.9L1789.7 260.4L1787.8 260.9L1786.5 262.9L1783.8 261.7L1782.3 263.4L1780.2 263.6L1779.0 265.9L1776.3 264.8L1774.8 266.2L1773.4 268.2L1770.9 267.4L1769.4 268.9L1767.4 269.4L1766.5 272.4L1764.7 273.2L1762.0 272.2L1760.8 274.2L1758.7 274.5L1757.3 276.4L1754.5 275.0L1753.3 277.1L1751.0 277.1L1750.2 280.0L1747.9 279.8L1746.6 281.8L1743.7 280.4L1742.5 282.5L1741.1 284.4L1739.3 285.2L1736.9 284.9L1735.7 287.0L1733.8 287.6L1731.6 287.8L1729.8 288.5L1727.8 289.1L1726.0 289.9L1724.5 291.4L1722.4 291.7L1721.2 293.8L1719.2 294.4L1716.7 293.8L1715.8 296.5L1713.9 297.2L1712.1 298.0L1710.0 298.2L1708.8 300.4L1706.9 301.2L1704.6 301.0L1703.2 302.7L1700.7 302.2L1698.8 302.7L1697.2 304.2L1695.3 304.8L1693.9 306.5L1692.6 308.4L1690.2 308.2L1688.5 309.3L1686.5 309.6L1685.3 311.8L1683.4 312.4L1680.8 311.7L1679.7 314.1L1677.8 314.7L1675.3 314.2L1674.4 316.8L1672.7 318.1L1670.2 317.5L1668.6 318.8L1666.8 319.6L1665.7 322.1L1663.5 322.0L1662.2 324.0L1660.1 324.3L1657.7 324.0L1656.8 326.6L1654.7 326.9L1652.0 326.0L1650.2 327.0L1649.1 329.2L1647.0 329.5L1645.4 330.7L1643.8 332.1L1641.5 332.0L1640.7 334.7L1638.0 333.9L1637.3 337.0L1634.4 335.7L1632.9 337.2L1631.4 338.7L1629.4 339.1L1627.9 340.6L1625.7 340.7L1624.8 343.4L1622.5 343.3L1620.2 343.3L1618.4 344.1L1617.6 347.0L1615.8 347.9L1613.1 347.1L1612.2 349.5L1610.8 351.3L1608.1 350.5L1606.8 352.2L1604.6 352.4L1603.2 354.0L1601.4 354.9L1599.7 356.1L1598.2 357.4L1595.5 356.8L1594.1 358.4L1592.2 359.1L1590.3 359.8L1589.5 362.4L1586.7 361.7L1585.1 362.8L1583.8 364.7L1582.0 365.5L1580.9 367.7L1578.2 367.0L1577.3 369.6L1575.1 369.6L1573.9 371.7L1572.3 372.8L1569.7 372.4L1568.2 373.7L1566.2 374.2L1564.2 374.9L1562.2 375.4L1561.8 378.8L1559.3 378.3L1557.6 379.5L1555.8 380.3L1554.2 381.6L1552.4 382.6L1550.2 382.7L1549.1 384.8L1547.2 385.6L1545.3 386.2L1544.4 388.8L1542.2 388.9L1540.9 390.8L1539.2 391.7L1537.6 393.1L1535.6 393.5L1533.8 394.5L1531.7 394.8L1529.8 395.6L1527.7 396.0L1526.5 397.9L1524.2 397.9L1523.2 400.2L1520.9 400.3L1519.5 401.8L1517.7 402.6L1516.5 404.5L1513.7 403.8L1512.2 405.3L1511.5 407.9L1509.2 407.9L1506.7 407.8L1506.5 411.2L1504.3 411.6L1501.9 411.5L1501.3 414.3L1498.5 413.6L1497.0 415.0L1495.1 415.7L1493.6 417.2L1491.3 417.2L1490.5 419.7L1488.4 420.2L1487.5 422.6L1485.0 422.3L1483.5 423.7L1480.9 423.3L1479.3 424.4L1478.8 427.5L1477.3 428.8L1475.4 429.7L1473.6 430.5L1471.1 430.2L1469.6 431.7L1467.9 432.8L1466.3 434.0L1465.3 436.2L1463.0 436.3L1460.4 435.8L1458.9 437.3L1457.6 439.0L1456.5 441.0L1453.7 440.2L1452.7 442.5L1450.7 443.1L1449.7 445.2L1447.8 445.9L1446.0 446.9L1444.2 447.8L1443.1 449.8L1440.4 449.3L1439.5 451.6L1437.1 451.5L1435.4 452.6L1433.6 453.4L1432.5 455.5L1430.8 456.6L1428.4 456.4L1427.2 458.4L1425.9 460.1L1423.0 459.3L1422.7 462.6L1419.7 461.4L1418.9 464.0L1417.1 464.8L1414.4 464.4L1413.6 466.8L1411.4 467.2L1410.2 469.0L1407.7 468.8L1406.4 470.4L1405.0 472.1L1404.0 474.1L1401.8 474.5L1399.9 475.2L1398.6 476.8L1396.5 477.3L1395.3 479.2L1393.2 479.5L1391.4 480.5L1389.5 481.2L1387.7 482.1L1386.0 483.2L1384.8 485.1L1383.1 486.0L1380.7 486.1L1379.8 488.4L1377.6 488.6L1375.5 489.0L1373.9 490.2L1372.8 492.3L1371.5 494.0L1369.3 494.2L1367.5 495.1L1366.1 496.6L1364.7 498.2L1362.8 499.0L1361.7 501.0L1359.7 501.5L1358.3 503.0L1355.7 502.7L1353.6 503.1L1353.2 506.2L1351.7 507.6L1348.9 506.8L1347.8 508.9L1345.9 509.6L1344.9 511.8L1343.0 512.6L1340.5 512.4L1339.0 513.7L1336.9 514.1L1335.0 514.9L1334.3 517.5L1332.2 517.9L1330.8 519.5L1329.0 520.4L1327.5 521.8L1324.9 521.4L1323.8 523.3L1322.9 525.6L1320.3 525.3L1318.2 525.7L1316.6 527.0L1315.4 528.9L1314.6 531.3L1311.7 530.4L1309.8 531.2L1308.4 532.8L1307.2 534.6L1305.6 535.8L1303.3 536.0L1302.7 538.7L1299.9 538.0L1298.7 539.8L1297.7 542.0L1294.8 541.2L1293.8 543.3L1292.6 545.1L1290.8 546.0L1288.0 545.4L1287.4 548.2L1284.8 547.7L1283.0 548.8L1282.5 551.7L1280.3 551.8L1278.0 552.0L1276.8 553.9L1274.5 554.0L1273.6 556.3L1271.5 556.7L1270.5 558.9L1267.8 558.3L1266.1 559.4L1264.9 561.2L1263.6 562.9L1261.9 563.9L1259.8 564.3L1258.8 566.6L1256.5 566.7L1255.2 568.3L1253.4 569.3L1251.8 570.4L1249.3 570.2L1248.6 572.9L1246.8 573.8L1245.3 575.1L1243.8 576.5L1241.5 576.6L1239.1 576.6L1237.3 577.5L1236.3 579.6L1234.7 580.8L1232.3 580.8L1231.2 582.7L1229.4 583.7L1227.6 584.5L1226.8 587.0L1223.9 586.2L1223.4 589.1L1221.0 589.0L1218.7 589.1L1217.6 591.1L1216.2 592.7L1213.9 592.7L1211.9 593.3L1210.6 595.1L1209.8 597.5L1206.8 596.5L1206.5 599.7L1203.7 599.1L1201.6 599.5L1201.1 602.5L1198.8 602.6L1196.8 603.1L1195.9 605.5L1194.1 606.4L1192.7 607.9L1190.8 608.7L1189.2 609.8L1187.2 610.4L1184.8 610.2L1183.1 611.4L1181.3 612.3L1179.8 613.6L1177.8 614.2L1177.1 616.9L1174.8 616.9L1173.9 619.3L1171.5 619.1L1169.2 619.2L1168.1 621.2L1166.6 622.7L1165.0 623.8L1163.1 624.5L1160.6 624.2L1158.8 625.1L1157.4 626.7L1155.3 627.2L1154.0 628.8L1153.0 631.0L1151.1 631.7L1148.9 632.0L1147.2 633.0L1145.6 634.1L1144.1 635.7L1143.0 637.6L1140.0 636.5L1139.4 639.4L1136.5 638.5L1136.1 641.7L1133.1 640.6L1132.3 643.2L1129.9 643.1L1129.5 646.2L1127.1 646.1L1125.7 647.6L1123.3 647.5L1121.6 648.6L1120.2 650.1L1118.1 650.5L1116.0 650.8L1115.6 654.1L1113.2 653.9L1111.3 654.7L1109.6 655.8L1108.5 657.8L1105.8 657.2L1105.1 659.9L1102.4 659.3L1101.3 661.3L1100.0 663.2L1097.3 662.4L1096.7 665.4L1093.9 664.5L1092.5 666.1L1090.3 666.4L1088.7 667.6L1087.6 669.6L1086.3 671.3L1084.4 672.0L1083.0 673.7L1080.3 673.0L1079.5 675.5L1077.6 676.3L1075.8 677.1L1073.8 677.7L1071.7 678.0L1070.3 679.7L1068.5 680.5L1067.4 682.6L1065.3 683.0L1063.8 684.3L1061.2 684.0L1060.6 686.9L1058.0 686.3L1056.1 687.1L1054.7 688.6L1053.7 690.8L1051.6 691.3L1049.9 692.4L1048.2 693.3L1046.4 694.3L1043.6 693.5L1042.2 695.0L1040.3 695.8L1038.9 697.2L1037.7 699.2L1035.1 698.7L1034.0 700.9L1032.8 702.7L1030.2 702.3L1029.2 704.5L1026.6 704.1L1025.0 705.3L1024.0 707.5L1022.0 708.1L1019.9 708.4L1018.2 709.6L1016.7 710.9L1015.5 712.8L1013.6 713.5L1011.3 713.6L1009.9 715.2L1007.8 715.5L1006.1 716.7L1004.9 718.5L1003.6 720.2L1001.0 719.7L999.8 721.6L997.7 722.1L996.7 724.2L994.9 725.2L992.8 725.5L990.7 725.9L989.8 728.3L987.1 727.7L985.2 728.5L983.8 730.0L981.9 730.8L981.0 733.2L979.5 734.6L977.4 735.0L976.0 736.6L973.9 736.8L971.6 737.0L970.6 739.2L968.0 738.8L966.9 740.9L965.7 742.7L963.2 742.5L961.8 744.0L960.3 745.3L958.2 745.9L955.8 745.7L954.5 747.4L953.5 749.6L950.8 749.0L950.2 751.9L948.1 752.4L946.5 753.5L943.8 753.0L943.6 756.6L940.9 756.0L939.4 757.4L938.3 759.3L935.8 759.1L933.8 759.8L932.2 760.9L931.6 763.7L928.7 762.9L927.7 765.1L925.2 764.9L924.0 766.7L923.0 769.0L920.3 768.3L918.8 769.9L917.3 771.2L915.3 771.8L913.9 773.4L912.9 775.5L909.8 774.3L909.1 776.9L907.4 778.0L906.1 779.7L903.3 779.1L901.3 779.6L900.3 781.8L898.0 782.0L897.1 784.3L895.3 785.3L893.8 786.6L892.1 787.6L890.0 788.1L888.7 789.7L887.4 791.5L884.7 791.0L883.6 793.0L881.8 793.9L880.4 795.5L879.0 796.9L876.3 796.5L875.0 798.2L872.5 798.0L872.3 801.4L869.3 800.5L868.9 803.6L867.0 804.3L865.6 805.8L863.1 805.6L861.7 807.1L860.0 808.3L857.3 807.8L856.3 809.9L854.0 810.1L852.4 811.3L851.6 813.8L849.4 814.2L848.5 816.4L846.6 817.1L844.4 817.4L842.9 818.8L842.1 821.2L840.4 822.3L837.6 821.7L836.0 823.0L834.4 824.3L833.5 826.5L830.9 826.2L829.6 827.9L828.7 830.1L827.0 831.1L824.5 831.2L822.3 831.4L821.3 833.5L820.1 835.4L817.8 835.5L817.0 837.9L814.6 838.0L813.3 839.7L812.4 841.8L809.9 841.8L808.2 842.9L805.9 843.1L804.6 844.8L803.7 846.9L801.4 847.3L800.5 849.4L798.2 849.6L796.6 850.9L795.0 852.0L794.1 854.3L791.5 854.2L790.2 855.8L788.2 856.4L787.8 859.3L785.0 858.8L783.0 859.5L782.0 861.6L781.2 863.9L778.2 863.2L777.2 865.2L776.1 867.1L773.9 867.5L771.8 868.1L771.6 871.1L769.1 871.3L767.4 872.3L765.3 872.8L765.3 876.2L762.8 876.3L760.8 876.9L759.3 878.3L757.4 879.1L756.1 880.8L754.6 882.1L753.0 883.4L752.3 885.7L749.4 885.3L748.4 887.3L747.8 889.7L744.7 889.1L743.4 890.6L741.9 892.0L741.4 894.6L738.6 894.4L737.7 896.5L735.3 896.6L734.9 899.4L733.0 900.3L731.9 902.1L730.5 903.5L728.4 904.1L726.1 904.5L725.1 906.4L723.7 908.0L721.0 907.8L719.8 909.6L717.8 910.3L717.5 913.1L716.2 914.7L713.1 914.2L713.3 917.5L710.4 917.2L708.6 918.1L707.5 920.0L706.2 921.6L705.1 923.4L703.7 924.9L702.6 926.7L700.5 927.3L698.7 928.4L697.7 930.3L694.8 930.0L693.2 931.2L693.1 934.2L691.0 934.8L688.9 935.5L688.0 937.5L686.9 939.4L684.4 939.6L683.6 941.7L681.9 942.8L680.1 943.9L679.6 946.3L677.3 946.8L676.7 949.1L674.4 949.6L673.7 951.8L671.1 952.0L670.6 954.4L667.8 954.4L668.0 957.5L665.4 957.7L663.7 958.8L662.2 960.1L661.4 962.3L659.9 963.6L659.0 965.6L656.4 965.8L655.1 967.4L654.2 969.3L652.8 970.8L650.4 971.3L649.8 973.5L649.3 975.9L647.9 977.3L645.0 977.3L644.1 979.2L642.6 980.6L641.5 982.3L640.9 984.6L637.8 984.4L637.3 986.7L635.7 988.0L634.4 989.5L633.7 991.6L630.5 991.3L629.1 992.8L629.7 996.2L628.3 997.6L626.1 998.4L623.5 998.6L623.2 1001.1L620.8 1001.7L620.7 1004.4L619.0 1005.6L616.9 1006.4L615.9 1008.2L615.4 1010.4L613.7 1011.6L611.9 1012.8L611.1 1014.7L610.2 1016.6L608.8 1018.1L606.3 1018.6L606.1 1021.1L604.9 1022.7L603.3 1024.0L600.4 1024.2L599.1 1025.7L598.9 1028.2L598.2 1030.3L596.4 1031.4L594.0 1032.0L593.4 1034.2L591.4 1035.1L590.1 1036.7L589.0 1038.4L587.5 1039.8L587.1 1042.1L586.6 1044.3L583.9 1044.7L582.1 1045.9L581.6 1048.1L581.3 1050.4L578.5 1050.7L577.2 1052.3L576.0 1053.9L575.3 1056.0L573.4 1057.1L573.9 1060.0L571.8 1060.9L569.6 1061.8L568.3 1063.4L567.6 1065.4L566.9 1067.4L565.5 1068.9L564.9 1071.0L564.1 1072.9L561.3 1073.3L560.8 1075.5L560.2 1077.6L559.1 1079.3L558.3 1081.2L557.1 1082.8L554.7 1083.6L554.5 1085.9L553.2 1087.5L550.8 1088.3L551.5 1091.3L548.2 1091.5L548.4 1094.1L546.2 1095.1L545.1 1096.8L544.3 1098.7L544.8 1101.4L542.2 1102.1L541.6 1104.2L540.8 1106.1L539.2 1107.5L537.8 1109.0L537.4 1111.1L536.2 1112.8L535.7 1114.8L534.7 1116.6L532.5 1117.7L530.5 1118.9L531.8 1122.0L529.3 1122.8L528.4 1124.7L527.0 1126.2L527.1 1128.6L526.2 1130.5L525.1 1132.2L522.7 1133.2L521.7 1134.9L520.8 1136.8L521.2 1139.3L520.0 1141.0L519.2 1142.9L517.2 1144.1L517.5 1146.6L515.2 1147.7L514.1 1149.4L513.9 1151.6L513.9 1153.9L512.8 1155.6L511.1 1157.0L509.7 1158.6L510.3 1161.1L508.2 1162.4L506.6 1163.9L506.2 1166.0L504.9 1167.7L503.8 1169.4L504.8 1172.1L504.1 1174.0L501.3 1175.0L501.9 1177.5L501.9 1179.7L499.7 1181.0L499.3 1183.0L499.3 1185.3L496.6 1186.3L497.0 1188.7L494.9 1190.1L496.1 1192.8L496.0 1194.9L492.9 1195.9L493.9 1198.5L491.4 1199.7L492.0 1202.1L490.7 1203.8L491.7 1206.3L490.6 1208.1L488.8 1209.7L487.3 1211.3L487.1 1213.4L486.2 1215.3L486.0 1217.4L484.8 1219.1L486.3 1221.8L486.1 1223.8L485.1 1225.7L483.6 1227.3L483.7 1229.5L484.2 1231.8L483.5 1233.7L482.5 1235.5L481.8 1237.5L481.4 1239.5L480.2 1241.3L479.4 1243.2L478.4 1245.0L479.3 1247.4L477.2 1249.0L478.3 1251.3L477.8 1253.3L477.4 1255.3L475.9 1257.1L475.6 1259.1L476.2 1261.3L476.0 1263.4L476.4 1265.5L475.5 1267.5L475.7 1269.6L474.6 1271.4L474.7 1273.5L473.0 1275.3L472.4 1277.3L472.9 1279.6L473.1 1285.5L477.0 1289.8L488.8 1277.5L488.9 1279.8L488.6 1281.6L491.3 1280.1L489.0 1277.8L490.7 1276.1L492.0 1274.3L491.2 1272.2L490.9 1270.2L491.2 1268.2L491.2 1266.2L493.5 1264.7L494.2 1262.8L492.5 1260.5L492.6 1258.5L494.0 1256.8L494.8 1255.0L494.2 1252.8L494.9 1251.0L496.6 1249.4L495.0 1247.0L496.2 1245.3L497.3 1243.5L498.2 1241.7L497.7 1239.6L497.8 1237.6L498.4 1235.7L500.5 1234.3L499.4 1231.9L500.3 1230.1L502.8 1228.8L502.8 1226.8L502.2 1224.6L504.4 1223.2L504.1 1221.1L504.4 1219.1L504.2 1217.0L505.9 1215.5L505.6 1213.3L507.9 1212.0L507.9 1209.9L508.7 1208.2L509.7 1206.4L509.4 1204.2L511.3 1202.8L510.4 1200.4L512.2 1199.0L513.1 1197.3L514.3 1195.7L515.5 1194.0L515.8 1192.0L515.5 1189.8L515.7 1187.7L516.0 1185.7L517.5 1184.3L518.0 1182.3L520.5 1181.3L521.1 1179.4L521.7 1177.5L521.4 1175.3L522.4 1173.5L524.0 1172.1L525.4 1170.6L525.8 1168.6L527.1 1167.1L527.0 1164.8L526.5 1162.4L527.7 1160.8L530.6 1160.1L531.8 1158.5L531.9 1156.3L531.7 1154.0L533.5 1152.7L533.6 1150.5L534.6 1148.9L536.1 1147.5L536.3 1145.3L538.8 1144.4L538.3 1141.9L540.7 1141.0L540.8 1138.8L542.8 1137.7L543.9 1136.0L542.7 1133.1L544.0 1131.6L544.5 1129.6L546.1 1128.2L548.0 1127.1L548.6 1125.2L550.6 1124.0L550.3 1121.5L551.2 1119.8L552.8 1118.5L552.9 1116.2L555.2 1115.3L556.9 1114.1L557.5 1112.1L559.3 1111.0L558.7 1108.2L559.9 1106.6L561.2 1105.1L562.0 1103.3L563.0 1101.6L565.8 1101.1L566.9 1099.5L567.4 1097.4L568.0 1095.4L570.5 1094.8L571.2 1092.8L572.1 1091.1L573.1 1089.4L573.7 1087.4L576.1 1086.7L576.9 1084.8L578.0 1083.2L577.6 1080.4L578.8 1078.9L580.8 1077.8L582.8 1076.9L584.0 1075.3L583.6 1072.5L585.5 1071.5L587.2 1070.3L588.7 1069.0L589.6 1067.2L590.2 1065.2L592.7 1064.6L594.2 1063.3L594.1 1060.6L595.4 1059.2L597.2 1058.1L597.4 1055.7L600.5 1055.6L601.1 1053.6L602.6 1052.3L603.7 1050.6L605.4 1049.4L606.8 1048.1L607.0 1045.6L607.4 1043.4L609.9 1042.9L609.9 1040.3L611.8 1039.3L612.8 1037.5L614.9 1036.8L616.3 1035.3L617.1 1033.4L618.6 1032.1L620.3 1031.0L621.6 1029.4L623.4 1028.4L624.3 1026.6L625.8 1025.3L626.1 1022.9L627.6 1021.6L629.6 1020.7L630.7 1019.1L631.2 1016.8L632.4 1015.2L634.6 1014.5L636.9 1014.0L637.9 1012.2L638.9 1010.4L640.9 1009.6L642.2 1008.0L642.2 1005.3L644.9 1005.2L646.1 1003.6L646.9 1001.6L648.0 999.9L648.6 997.8L650.2 996.5L652.1 995.6L653.1 993.8L656.0 993.9L657.1 992.2L659.0 991.2L660.2 989.7L659.8 986.4L662.2 986.0L663.3 984.3L665.5 983.8L667.1 982.6L667.9 980.5L669.1 978.9L670.8 977.8L672.5 976.8L673.5 974.9L675.3 973.9L675.9 971.7L677.6 970.6L679.6 969.8L680.5 967.9L682.0 966.6L683.0 964.8L686.0 965.0L686.3 962.4L689.0 962.5L690.2 960.8L690.5 958.2L692.1 957.1L694.4 956.6L694.8 954.1L697.5 954.1L697.6 951.3L699.9 950.8L701.0 949.2L702.6 948.0L705.1 947.8L706.5 946.3L706.9 943.9L709.3 943.5L711.2 942.7L712.0 940.6L713.6 939.4L715.6 938.6L717.2 937.5L718.2 935.7L718.4 932.8L721.0 932.7L723.0 932.1L723.3 929.3L725.4 928.7L726.7 927.3L728.7 926.5L730.6 925.7L731.7 923.9L733.1 922.5L734.3 920.8L736.6 920.5L736.7 917.5L738.3 916.3L740.6 916.0L742.2 914.8L743.9 913.7L745.7 912.8L747.3 911.6L747.6 908.9L750.2 908.9L752.1 908.1L752.5 905.4L754.7 905.0L756.1 903.5L757.1 901.6L759.3 901.1L761.4 900.6L762.6 899.0L763.9 897.4L765.8 896.5L766.7 894.4L768.8 894.0L769.7 891.8L771.8 891.4L774.3 891.3L774.3 888.0L776.1 887.1L777.4 885.5L779.8 885.5L782.0 885.1L783.3 883.5L783.8 880.8L785.6 879.9L786.9 878.3L788.9 877.7L790.3 876.2L791.9 875.0L793.3 873.6L796.2 874.2L796.7 871.4L799.8 872.3L801.3 871.0L802.2 868.9L802.9 866.5L805.1 866.0L806.9 865.2L807.9 863.2L810.4 863.3L812.2 862.3L813.9 861.2L815.2 859.7L817.4 859.4L817.6 856.2L819.4 855.3L821.0 854.1L823.1 853.6L825.0 852.8L827.1 852.3L828.0 850.2L829.3 848.6L831.7 848.5L833.2 847.2L834.8 846.1L836.2 844.6L838.0 843.6L840.4 843.6L841.7 841.9L842.7 840.0L844.4 838.9L845.4 836.8L847.9 837.0L849.9 836.4L851.8 835.6L852.4 833.0L854.4 832.4L856.9 832.4L858.0 830.6L858.7 828.0L861.4 828.5L863.2 827.6L864.9 826.5L866.5 825.4L868.2 824.3L869.3 822.4L870.3 820.2L872.4 819.9L875.0 820.2L876.3 818.5L877.0 816.0L878.6 814.8L881.1 814.8L882.5 813.4L883.6 811.5L886.3 812.0L888.3 811.4L888.7 808.3L890.9 808.0L892.9 807.4L894.9 807.0L895.7 804.4L897.2 803.1L899.7 803.3L900.6 800.9L903.6 802.0L904.2 799.2L906.8 799.6L907.8 797.5L910.0 797.3L911.0 795.0L912.9 794.3L914.3 792.7L916.0 791.8L917.8 790.9L919.1 789.2L921.5 789.2L923.8 789.2L925.0 787.4L926.4 785.8L927.9 784.4L929.8 783.8L931.6 782.8L932.9 781.1L935.4 781.4L936.9 780.0L939.0 779.7L940.1 777.6L942.3 777.4L943.2 775.0L944.5 773.3L947.4 774.2L948.1 771.5L950.9 772.3L952.1 770.4L954.0 769.8L955.4 768.2L956.8 766.6L959.3 766.9L960.8 765.5L961.7 763.2L963.7 762.6L966.4 763.1L967.5 761.2L968.8 759.5L970.1 757.8L973.1 758.8L973.7 756.0L976.1 756.0L978.1 755.6L979.2 753.5L981.3 753.1L982.8 751.7L984.7 751.0L986.1 749.5L987.2 747.4L989.2 746.8L991.9 747.5L992.5 744.5L994.7 744.4L997.0 744.3L997.6 741.4L999.6 740.9L1001.2 739.6L1003.4 739.5L1004.8 737.9L1006.5 736.9L1009.0 737.2L1010.4 735.6L1012.5 735.1L1013.2 732.4L1016.1 733.4L1017.3 731.5L1018.1 729.0L1020.0 728.2L1022.4 728.4L1023.3 726.1L1025.4 725.5L1028.0 726.0L1028.7 723.3L1030.3 722.2L1033.2 723.0L1035.0 722.2L1035.4 719.0L1037.8 719.1L1039.1 717.4L1041.8 717.9L1042.5 715.3L1044.0 713.9L1045.8 713.0L1047.9 712.6L1050.0 712.2L1051.2 710.3L1053.5 710.2L1055.1 709.1L1056.5 707.5L1057.7 705.6L1059.4 704.6L1062.4 705.7L1063.4 703.4L1065.8 703.6L1066.3 700.4L1069.3 701.7L1069.8 698.5L1071.9 698.2L1073.9 697.6L1075.9 697.1L1076.9 694.8L1079.8 695.7L1081.1 694.0L1083.2 693.6L1084.1 691.3L1085.9 690.3L1087.8 689.6L1089.4 688.3L1090.9 687.0L1092.4 685.6L1094.7 685.5L1096.7 685.0L1098.1 683.5L1099.8 682.3L1101.3 681.0L1102.7 679.4L1104.9 679.2L1106.3 677.7L1107.7 676.1L1109.6 675.3L1111.8 675.2L1113.5 674.1L1115.7 673.9L1117.3 672.6L1118.2 670.2L1120.5 670.2L1122.1 669.0L1123.8 668.0L1125.6 667.0L1127.1 665.6L1128.4 663.8L1130.1 662.8L1132.2 662.5L1134.4 662.2L1135.6 660.3L1138.0 660.5L1139.1 658.3L1141.8 658.9L1142.4 656.1L1144.4 655.5L1147.0 656.0L1148.6 654.7L1149.6 652.6L1151.4 651.6L1153.2 650.8L1155.3 650.2L1156.8 648.9L1158.7 648.1L1160.2 646.7L1161.6 645.3L1164.2 645.7L1164.5 642.2L1166.1 641.1L1168.5 641.1L1170.6 640.8L1172.6 640.2L1173.4 637.6L1174.7 635.9L1177.0 635.8L1178.1 633.8L1179.9 632.9L1181.8 632.1L1183.5 631.1L1186.0 631.3L1187.2 629.4L1189.5 629.4L1190.0 626.4L1193.1 627.5L1193.4 624.3L1196.5 625.5L1197.3 623.0L1198.8 621.5L1201.2 621.6L1202.4 619.8L1204.8 619.7L1206.0 617.9L1207.3 616.2L1209.2 615.5L1211.3 615.1L1212.8 613.7L1214.2 612.1L1216.8 612.5L1217.8 610.3L1219.1 608.6L1221.8 609.1L1222.3 606.2L1224.6 606.1L1225.9 604.3L1227.4 603.1L1230.0 603.3L1231.1 601.3L1233.3 601.1L1234.9 599.9L1237.1 599.6L1237.8 597.0L1239.2 595.5L1240.7 594.0L1243.1 594.1L1244.9 593.3L1247.2 593.1L1247.4 589.7L1250.0 590.1L1252.0 589.4L1253.9 588.7L1255.7 587.8L1257.4 586.8L1258.6 584.9L1259.3 582.3L1261.2 581.5L1264.2 582.5L1265.6 580.9L1266.4 578.5L1268.3 577.7L1269.5 575.9L1272.0 576.1L1273.2 574.2L1276.0 574.9L1276.4 571.9L1279.4 572.9L1280.4 570.6L1282.1 569.6L1284.4 569.5L1285.0 566.6L1287.6 567.1L1289.0 565.5L1289.8 563.1L1292.7 563.8L1294.2 562.6L1295.4 560.7L1297.9 560.8L1298.4 557.9L1300.1 556.8L1301.7 555.7L1303.6 554.9L1306.3 555.4L1306.7 552.4L1309.0 552.2L1310.3 550.5L1311.9 549.4L1314.0 548.9L1315.8 548.1L1317.3 546.6L1318.7 545.1L1321.4 545.6L1321.8 542.5L1323.9 542.1L1326.5 542.4L1327.1 539.6L1328.9 538.7L1331.2 538.7L1332.9 537.6L1333.6 534.9L1335.8 534.6L1337.9 534.3L1339.3 532.7L1340.8 531.4L1342.9 530.9L1344.8 530.2L1346.6 529.4L1347.3 526.6L1350.1 527.3L1350.4 524.2L1353.4 525.1L1354.4 523.0L1356.2 522.1L1357.1 519.7L1359.7 520.0L1361.0 518.5L1363.7 518.9L1364.0 515.6L1366.3 515.6L1368.1 514.6L1369.3 512.8L1371.9 513.1L1373.2 511.6L1374.2 509.3L1377.0 510.1L1378.2 508.1L1380.5 508.0L1382.3 507.1L1383.1 504.7L1384.5 503.2L1386.2 502.2L1387.9 501.1L1389.8 500.3L1391.8 499.7L1393.1 498.1L1394.2 496.2L1396.7 496.3L1398.9 496.1L1399.6 493.4L1401.6 492.9L1403.8 492.6L1404.4 489.8L1407.6 491.0L1407.9 487.8L1409.6 486.8L1411.7 486.3L1413.0 484.6L1415.0 484.2L1417.5 484.4L1418.0 481.4L1419.7 480.2L1422.4 480.8L1423.0 478.1L1425.4 478.1L1427.0 476.9L1428.3 475.1L1430.0 474.2L1431.8 473.3L1433.7 472.6L1435.6 471.8L1437.8 471.6L1438.5 469.0L1440.1 467.6L1442.9 468.5L1443.8 466.0L1446.3 466.4L1448.1 465.4L1448.5 462.3L1451.2 462.9L1453.1 462.2L1453.6 459.2L1455.5 458.4L1457.7 458.2L1459.3 456.9L1461.8 457.2L1462.6 454.7L1464.1 453.3L1466.6 453.5L1467.5 451.3L1468.9 449.7L1471.8 450.7L1473.5 449.6L1474.9 448.1L1476.5 446.7L1478.8 446.7L1480.4 445.6L1480.9 442.5L1483.2 442.5L1484.2 440.2L1487.1 441.2L1488.0 438.9L1490.2 438.6L1491.1 436.1L1493.2 435.8L1495.6 435.9L1497.2 434.8L1498.0 432.3L1499.6 431.1L1502.7 432.2L1503.4 429.5L1505.5 429.1L1507.7 429.0L1509.2 427.6L1509.9 424.9L1512.3 425.0L1513.8 423.6L1515.2 422.0L1517.2 421.5L1518.9 420.5L1521.0 420.1L1522.4 418.5L1524.0 417.3L1525.4 415.8L1527.2 414.9L1529.1 414.1L1531.4 414.1L1532.9 412.8L1535.0 412.5L1536.0 410.2L1538.0 409.6L1540.4 409.7L1541.0 406.8L1542.7 405.8L1544.5 404.9L1546.4 404.3L1548.7 404.3L1549.7 401.9L1552.3 402.5L1553.4 400.4L1556.1 401.0L1556.4 397.6L1559.5 399.1L1560.6 396.9L1562.5 396.2L1563.7 394.3L1566.5 395.1L1567.3 392.6L1569.1 391.7L1570.9 390.8L1573.4 391.2L1574.3 388.8L1576.6 388.8L1578.1 387.3L1579.3 385.4L1581.2 384.8L1583.4 384.6L1584.9 383.2L1586.7 382.4L1588.2 380.9L1590.5 380.9L1591.7 379.0L1594.2 379.3L1594.9 376.5L1597.6 377.2L1598.9 375.5L1601.4 375.9L1603.2 375.1L1604.9 374.0L1606.0 372.0L1607.2 369.9L1609.0 369.0L1610.8 368.1L1612.6 367.3L1614.6 366.7L1617.4 367.8L1618.3 365.3L1619.7 363.6L1622.2 364.0L1624.3 363.8L1625.2 361.3L1627.1 360.7L1629.1 360.1L1631.3 359.9L1632.0 357.0L1634.3 357.1L1636.4 356.8L1637.8 355.1L1639.8 354.7L1641.1 352.9L1642.8 351.9L1644.4 350.6L1647.3 352.0L1648.7 350.2L1650.5 349.4L1652.3 348.6L1653.6 346.7L1655.4 345.9L1658.2 346.9L1658.8 343.7L1661.6 344.8L1663.0 343.3L1664.9 342.4L1666.9 342.1L1668.6 340.9L1670.3 340.0L1672.4 339.7L1674.2 338.9L1675.4 336.8L1677.1 335.7L1679.5 336.1L1680.2 332.9L1682.6 333.4L1684.1 331.9L1685.5 330.3L1687.7 330.2L1690.0 330.3L1691.0 327.8L1693.7 328.8L1694.9 326.7L1697.5 327.5L1699.3 326.6L1699.9 323.4L1702.4 323.9L1704.5 323.7L1705.3 320.9L1707.7 321.1L1709.1 319.4L1712.0 320.8L1713.6 319.6L1714.6 317.1L1717.1 317.8L1718.5 316.0L1720.6 315.8L1722.2 314.5L1724.6 314.8L1725.3 311.7L1727.5 311.8L1729.3 310.9L1731.1 310.0L1733.0 309.4L1734.9 308.6L1737.1 308.7L1738.8 307.6L1740.2 305.9L1742.1 305.3L1744.5 305.7L1746.1 304.4L1747.3 302.2L1748.9 300.9L1750.9 300.4L1752.5 299.3L1755.4 300.8L1757.2 299.9L1758.1 297.2L1760.6 297.6L1762.5 297.1L1764.5 296.7L1765.3 293.6L1767.6 293.9L1769.1 292.3L1771.1 291.8L1772.6 290.5L1774.7 290.3L1776.7 289.8L1778.2 288.2L1780.6 288.6L1781.5 286.0L1783.9 286.4L1786.1 286.4L1787.4 284.5L1788.9 283.0L1791.1 282.8L1793.4 283.2L1795.0 281.9L1796.1 279.5L1798.4 279.7L1800.9 280.4L1802.2 278.4L1803.7 276.8L1805.8 276.8L1807.4 275.5L1810.1 276.5L1811.2 274.1L1812.8 272.8L1814.8 272.4L1817.3 273.1L1819.2 272.4L1820.3 270.1L1822.5 270.0L1824.0 268.5L1825.8 267.7L1828.2 268.2L1829.0 265.1L1831.7 266.1L1833.4 265.2L1835.7 265.3L1836.5 262.1L1839.3 263.5L1840.7 261.8L1842.5 261.0L1844.6 260.8L1845.9 258.7L1847.4 257.3L1849.8 257.8L1851.0 255.6L1852.8 254.8L1855.8 256.5L1856.6 253.3L1859.1 254.2L1861.0 253.5L1862.7 252.4L1864.0 250.3L1866.8 251.8L1867.9 249.3L1869.7 248.4L1872.0 248.9L1873.6 247.4L1874.9 245.5L1877.7 247.0L1879.3 245.6L1880.8 244.0L1882.8 243.6L1884.4 242.2L1886.6 242.4L1887.9 240.2L1890.7 241.7L1891.9 239.5L1893.9 239.2L1895.9 238.7L1897.1 236.3L1899.4 236.8L1901.3 236.2L1902.7 234.2L1905.4 235.6L1906.6 233.2L1908.6 232.9L1910.1 231.2L1912.3 231.3L1914.7 231.8L1916.1 230.1L1918.1 229.6L1920.1 229.4L1921.5 227.4L1923.7 227.6L1925.0 225.6L1927.4 226.2L1929.1 225.0L1930.8 223.9L1932.9 223.8L1934.7 222.9L1936.1 221.1L1938.2 220.7L1940.3 220.6L1941.5 218.3L1944.2 219.6L1945.8 218.3L1947.6 217.4L1949.8 217.5L1950.8 214.6L1952.5 213.6L1954.4 212.9L1956.1 211.9L1958.7 212.8L1960.5 212.1L1962.2 210.9L1964.5 211.4L1966.1 209.8L1968.2 209.9L1969.5 207.6L1971.6 207.6L1973.7 207.3L1975.0 205.3L1976.5 203.7L1979.0 204.5L1980.3 202.3L1982.7 202.9L1984.3 201.7L1986.6 202.0L1988.4 201.1L1989.6 198.8L1992.0 199.4L1994.0 199.1L1995.7 198.0L1997.0 195.8L1999.0 195.4L2000.9 194.8L2003.1 194.8L2005.3 195.1L2006.9 193.6L2008.9 193.1L2010.8 192.5L2012.6 191.7L2013.9 189.7L2016.1 189.7L2017.6 188.1L2019.5 187.5L2021.7 187.6L2023.7 187.3L2025.6 186.5L2026.9 184.5L2028.6 183.3L2031.2 184.4L2032.7 182.9L2034.5 182.0L2036.5 181.5L2038.5 181.1L2040.5 180.7L2042.4 180.2L2043.8 178.1L2046.0 178.3L2047.4 176.4L2049.3 175.8L2051.8 176.8L2052.8 173.9L2054.7 173.3L2056.5 172.3L2058.6 172.2L2060.9 172.5L2062.2 170.5L2064.2 169.9L2066.0 169.2L2068.1 169.1L2070.0 168.3L2072.1 168.3L2073.3 165.8L2074.9 164.4L2077.6 165.9L2078.4 162.4L2080.9 163.2L2083.1 163.4L2084.5 161.6L2086.4 160.9L2087.9 159.2L2090.0 159.2L2092.1 159.1L2093.6 157.3L2095.1 155.7L2096.7 154.2L2099.1 154.9L2101.2 154.8L2102.7 153.2L2104.9 153.4L2106.1 150.9L2108.2 150.7L2109.8 149.4L2112.2 149.9L2115.5 147.6L2119.7 144.4L2120.9 141.4Z" fill="#ff8000"/>
<path d="M490.9 1288.0L490.0 1287.4L489.7 1288.9L490.7 1288.7L491.8 1286.5L494.6 1288.0L495.8 1286.0L497.6 1285.4L499.5 1284.8L501.7 1285.1L503.0 1283.2L505.4 1284.1L506.8 1282.3L508.9 1282.3L510.7 1281.8L511.8 1279.3L514.2 1280.0L515.6 1278.3L517.6 1278.3L519.6 1278.2L521.3 1277.2L523.8 1278.6L525.0 1276.2L526.9 1275.8L529.0 1276.0L530.6 1274.6L533.0 1276.2L534.9 1275.8L536.5 1274.2L538.5 1274.4L540.0 1272.7L541.9 1272.3L543.8 1271.7L546.0 1272.8L547.8 1272.1L549.2 1269.5L551.2 1269.5L553.3 1270.0L555.2 1269.9L557.1 1269.3L558.9 1268.7L560.7 1267.5L562.6 1267.5L564.9 1269.4L566.7 1268.3L568.5 1267.2L570.3 1266.7L572.2 1265.8L574.1 1265.8L576.3 1267.7L578.1 1266.1L580.0 1266.4L581.9 1265.1L584.0 1266.7L585.7 1264.6L587.7 1264.8L589.6 1263.9L591.5 1263.8L593.5 1264.2L595.5 1265.2L597.5 1265.7L599.3 1263.8L601.3 1263.9L603.2 1263.6L605.2 1264.8L607.2 1265.9L609.1 1264.5L611.0 1262.9L613.0 1265.0L614.9 1263.6L616.9 1263.0L618.8 1265.1L620.8 1263.1L622.7 1263.3L624.7 1265.7L626.6 1265.4L628.6 1264.0L630.6 1264.2L632.5 1263.7L634.5 1264.8L636.4 1264.4L638.4 1263.6L640.4 1264.0L642.3 1265.9L644.3 1264.1L646.3 1264.2L648.3 1264.1L650.1 1266.0L652.1 1266.4L654.1 1265.7L656.1 1264.6L658.1 1265.1L660.0 1265.4L662.0 1265.4L663.9 1265.9L665.9 1266.0L667.8 1267.2L669.9 1265.6L671.8 1266.0L673.6 1268.1L675.8 1266.5L677.6 1267.7L679.6 1267.9L681.6 1268.1L683.4 1269.5L685.6 1267.8L687.6 1267.2L689.6 1267.6L691.3 1270.3L693.4 1269.3L695.4 1268.8L697.4 1269.4L699.4 1269.2L701.2 1270.7L703.4 1269.3L705.2 1271.0L707.1 1271.6L709.2 1270.5L711.0 1272.8L713.2 1271.2L714.9 1273.4L717.1 1271.7L719.0 1272.3L720.9 1273.5L722.9 1273.5L725.1 1271.9L727.0 1272.9L728.9 1273.5L730.9 1273.6L732.9 1274.2L735.0 1273.4L736.7 1275.5L738.9 1274.2L740.8 1275.4L742.7 1276.2L744.9 1274.9L746.7 1276.6L748.6 1277.1L750.8 1275.7L752.6 1277.2L754.6 1277.4L756.4 1278.9L758.5 1278.7L760.6 1277.7L762.5 1278.8L764.6 1278.3L766.7 1278.0L768.7 1278.3L770.7 1278.5L772.5 1279.5L774.5 1279.9L776.7 1278.8L778.7 1279.0L780.6 1280.2L782.5 1280.7L784.5 1280.7L786.6 1280.1L788.6 1280.3L790.5 1281.7L792.5 1281.4L794.5 1282.0L796.3 1283.7L798.6 1281.5L800.4 1283.8L802.3 1284.2L804.6 1282.4L806.4 1284.0L808.6 1283.1L810.5 1283.4L812.5 1283.8L814.4 1285.0L816.6 1283.6L818.5 1285.0L820.5 1284.9L822.4 1286.3L824.4 1286.4L826.4 1286.9L828.4 1287.6L830.5 1286.5L832.7 1285.2L834.4 1288.1L836.7 1285.8L838.5 1288.5L840.5 1288.3L842.7 1286.7L844.7 1287.4L846.6 1288.1L848.7 1287.8L850.6 1289.0L852.8 1287.0L854.7 1288.7L856.8 1287.5L858.8 1288.6L860.8 1289.7L862.8 1290.0L864.9 1288.1L866.9 1289.9L869.0 1288.1L870.9 1290.5L873.0 1289.2L875.0 1288.7L877.0 1290.1L879.1 1288.4L881.1 1290.9L883.1 1291.2L885.1 1291.4L887.2 1289.7L889.3 1289.3L891.3 1291.4L893.3 1291.4L895.4 1291.4L897.4 1291.5L899.4 1290.6L901.5 1288.7L903.5 1290.9L905.6 1291.5L907.6 1289.3L909.7 1289.4L911.7 1289.4L913.8 1290.8L915.8 1290.3L917.8 1288.5L919.9 1289.9L921.9 1289.2L924.0 1290.4L926.0 1289.9L928.1 1288.9L930.1 1288.3L932.1 1287.9L934.3 1289.7L936.3 1289.3L938.3 1288.1L940.5 1289.6L942.3 1287.1L944.6 1289.3L946.4 1287.1L948.6 1288.4L950.5 1286.9L952.5 1286.2L954.6 1286.5L956.8 1287.6L958.8 1287.1L960.9 1287.0L962.7 1285.4L965.0 1286.7L966.7 1284.2L968.8 1284.2L971.1 1286.1L973.0 1284.6L975.1 1284.9L977.1 1284.1L978.9 1282.6L981.0 1282.4L983.2 1283.3L985.1 1282.2L987.3 1282.6L989.4 1282.5L991.1 1280.9L993.4 1281.6L995.2 1280.3L997.5 1281.1L999.2 1279.2L1001.5 1280.2L1003.2 1278.4L1005.4 1278.6L1007.4 1278.2L1009.5 1277.8L1011.1 1275.9L1012.8 1274.6L1014.7 1273.7L1017.5 1275.8L1018.8 1273.1L1021.4 1274.4L1023.0 1272.7L1025.0 1272.0L1027.4 1272.9L1029.0 1271.0L1030.5 1269.1L1033.1 1270.5L1034.4 1267.8L1036.8 1268.4L1039.0 1268.5L1040.6 1266.9L1043.0 1267.3L1044.1 1264.4L1046.3 1264.3L1048.8 1265.2L1050.7 1264.2L1052.3 1262.6L1053.9 1261.3L1055.6 1260.0L1058.4 1261.2L1059.5 1258.7L1062.0 1259.2L1063.5 1257.5L1065.7 1257.2L1067.0 1255.1L1069.4 1255.4L1071.6 1255.2L1072.9 1253.2L1074.9 1252.6L1076.4 1250.9L1079.2 1251.8L1080.8 1250.5L1081.8 1247.9L1084.8 1249.1L1086.5 1248.0L1088.0 1246.3L1090.2 1246.0L1092.0 1244.9L1093.6 1243.6L1095.6 1242.8L1096.1 1239.7L1098.2 1239.1L1100.7 1239.3L1102.6 1238.5L1103.4 1235.7L1105.6 1235.4L1107.2 1234.0L1109.8 1234.3L1110.8 1232.0L1113.0 1231.6L1114.6 1230.3L1115.8 1228.3L1118.6 1228.7L1120.0 1227.1L1120.7 1224.5L1122.5 1223.5L1123.8 1221.7L1126.8 1222.2L1127.0 1219.1L1130.1 1219.7L1130.5 1216.9L1132.6 1216.3L1133.7 1214.3L1135.9 1213.8L1137.5 1212.4L1139.4 1211.5L1140.2 1209.2L1141.3 1207.3L1143.6 1206.8L1143.8 1203.9L1146.5 1203.9L1146.8 1201.2L1150.0 1201.6L1151.5 1200.1L1152.7 1198.4L1153.8 1196.6L1154.1 1193.9L1155.9 1192.8L1158.8 1192.9L1158.4 1189.6L1160.4 1188.7L1161.3 1186.6L1163.7 1186.2L1165.3 1184.9L1165.6 1182.3L1166.9 1180.8L1168.8 1179.7L1170.9 1178.9L1171.8 1177.0L1172.9 1175.2L1173.9 1173.3L1176.9 1173.3L1178.6 1172.1L1178.6 1169.3L1181.3 1169.0L1180.9 1166.0L1183.0 1165.0L1184.4 1163.6L1186.8 1162.9L1186.4 1160.0L1189.1 1159.5L1189.0 1156.8L1190.2 1155.2L1191.1 1153.3L1192.8 1152.0L1193.6 1150.1L1196.8 1150.0L1195.9 1146.8L1199.2 1146.7L1199.8 1144.6L1199.9 1142.1L1201.7 1141.0L1203.3 1139.6L1204.8 1138.2L1205.4 1136.1L1206.1 1134.1L1207.3 1132.5L1209.2 1131.3L1210.5 1129.8L1212.6 1128.8L1211.8 1125.7L1213.3 1124.3L1214.9 1123.0L1216.8 1121.8L1216.9 1119.4L1218.3 1117.9L1220.7 1117.1L1219.4 1113.8L1220.7 1112.2L1222.2 1110.7L1224.4 1109.8L1224.4 1107.4L1225.9 1105.9L1227.7 1104.7L1228.4 1102.7L1229.1 1100.8L1231.7 1100.0L1231.6 1097.6L1231.6 1095.2L1234.6 1094.7L1236.0 1093.2L1235.2 1090.3L1237.2 1089.1L1237.0 1086.7L1238.7 1085.3L1241.5 1084.7L1241.1 1082.1L1242.0 1080.3L1242.6 1078.3L1243.5 1076.5L1244.3 1074.6L1245.2 1072.8L1248.3 1072.3L1248.8 1070.2L1248.3 1067.6L1249.5 1065.9L1252.8 1065.5L1253.3 1063.5L1252.7 1060.8L1255.8 1060.3L1255.8 1058.0L1256.2 1055.9L1256.5 1053.7L1257.3 1051.9L1258.9 1050.5L1259.5 1048.5L1261.2 1047.1L1262.5 1045.5L1263.0 1043.5L1263.8 1041.7L1266.3 1040.7L1266.3 1038.4L1268.4 1037.3L1267.6 1034.6L1268.5 1032.8L1270.6 1031.6L1270.0 1029.0L1273.2 1028.4L1272.3 1025.7L1274.7 1024.7L1274.6 1022.3L1276.4 1021.0L1276.0 1018.6L1278.1 1017.4L1277.8 1015.0L1279.7 1013.7L1279.8 1011.5L1279.9 1009.3L1283.3 1008.8L1282.0 1005.8L1282.7 1003.9L1286.0 1003.4L1286.7 1001.5L1285.6 998.6L1286.9 997.1L1288.5 995.7L1288.3 993.3L1290.1 991.9L1292.5 990.9L1292.7 988.8L1293.2 986.8L1292.9 984.4L1294.9 983.2L1296.8 981.9L1297.7 980.0L1297.9 977.9L1298.8 976.1L1299.8 974.4L1298.8 971.7L1299.8 969.9L1302.4 969.0L1302.9 967.0L1304.6 965.6L1304.0 963.0L1305.7 961.6L1306.2 959.7L1307.8 958.2L1306.9 955.6L1308.9 954.3L1310.7 953.0L1309.4 950.1L1311.2 948.7L1312.1 947.0L1313.2 945.3L1314.7 943.8L1315.1 941.7L1316.7 940.3L1317.0 938.2L1317.3 936.1L1319.6 935.1L1319.4 932.7L1319.7 930.6L1320.9 929.0L1323.3 928.0L1324.3 926.2L1324.3 924.0L1324.1 921.7L1325.6 920.2L1327.6 919.0L1326.8 916.3L1327.8 914.6L1328.8 912.9L1329.9 911.2L1330.1 909.0L1331.3 907.4L1331.7 905.4L1333.7 904.2L1333.8 901.9L1334.8 900.2L1335.9 898.5L1337.1 896.9L1337.9 895.1L1339.2 893.5L1338.8 891.1L1339.6 889.2L1341.3 887.9L1342.5 886.2L1344.9 885.2L1343.2 882.1L1346.3 881.4L1345.4 878.7L1347.3 877.5L1348.8 876.0L1349.7 874.2L1349.2 871.7L1351.6 870.7L1350.5 867.9L1352.3 866.6L1354.8 865.6L1355.2 863.5L1355.1 861.3L1355.5 859.3L1357.0 857.8L1357.9 856.0L1360.3 855.0L1359.2 852.1L1361.7 851.2L1362.6 849.4L1362.1 846.9L1364.5 845.9L1365.8 844.4L1365.4 841.9L1366.0 840.0L1367.2 838.4L1368.4 836.7L1369.4 835.0L1370.2 833.1L1372.0 831.8L1371.5 829.3L1374.2 828.5L1373.9 826.1L1373.7 823.7L1374.9 822.1L1376.8 820.9L1378.5 819.5L1377.8 816.8L1380.7 816.2L1379.4 813.2L1382.6 812.7L1381.5 809.8L1383.5 808.6L1384.9 807.1L1384.4 804.6L1385.9 803.1L1386.1 800.9L1389.0 800.3L1389.1 798.0L1390.5 796.5L1391.0 794.5L1393.0 793.4L1393.1 791.1L1393.7 789.2L1395.5 787.9L1396.2 786.0L1396.7 784.0L1396.6 781.7L1400.0 781.3L1398.6 778.2L1400.5 777.0L1402.4 775.8L1401.9 773.3L1403.2 771.7L1403.7 769.7L1404.6 767.9L1406.9 766.9L1407.0 764.7L1407.5 762.6L1410.7 762.2L1410.0 759.5L1411.5 758.1L1412.9 756.6L1413.9 754.9L1414.2 752.7L1415.8 751.3L1417.4 750.0L1417.6 747.8L1418.1 745.8L1418.9 744.0L1420.1 742.4L1421.6 740.9L1423.6 739.8L1423.9 737.6L1425.3 736.2L1426.0 734.2L1426.3 732.1L1429.0 731.4L1427.7 728.3L1429.5 727.1L1430.4 725.3L1431.2 723.4L1431.8 721.4L1433.8 720.3L1436.3 719.5L1436.6 717.4L1436.2 714.8L1439.1 714.3L1439.9 712.5L1441.3 710.9L1440.6 708.2L1443.2 707.4L1442.2 704.5L1444.0 703.2L1445.4 701.8L1446.3 700.0L1447.8 698.6L1449.1 697.1L1449.3 694.8L1449.8 692.8L1450.8 691.0L1452.8 690.0L1455.2 689.1L1455.5 687.0L1456.0 685.0L1458.2 684.0L1459.6 682.5L1460.8 680.9L1459.7 677.9L1460.9 676.3L1462.0 674.6L1465.0 674.2L1465.9 672.4L1466.1 670.2L1467.5 668.7L1468.2 666.8L1470.2 665.7L1470.9 663.8L1471.3 661.6L1471.9 659.6L1474.0 658.7L1473.8 656.2L1476.2 655.4L1476.8 653.4L1478.5 652.1L1478.9 650.0L1480.6 648.7L1482.7 647.8L1481.9 644.8L1483.0 643.2L1484.3 641.6L1485.5 640.0L1488.4 639.7L1487.9 636.9L1490.3 636.1L1491.6 634.6L1492.1 632.5L1493.9 631.4L1493.7 628.7L1494.7 627.1L1496.5 625.9L1497.1 623.8L1499.5 623.1L1500.1 621.1L1501.8 619.9L1502.7 618.1L1503.8 616.5L1504.4 614.4L1507.1 614.0L1506.2 610.8L1508.8 610.2L1510.5 609.0L1511.5 607.3L1511.1 604.5L1514.2 604.3L1515.2 602.6L1516.5 601.1L1517.2 599.1L1518.9 598.0L1520.0 596.3L1521.6 595.0L1521.9 592.8L1523.7 591.6L1523.5 589.0L1526.3 588.6L1526.4 586.2L1528.0 584.9L1528.0 582.3L1529.3 580.9L1531.5 580.1L1533.1 578.8L1534.7 577.6L1536.0 576.0L1536.6 574.0L1538.3 572.8L1538.0 570.0L1540.4 569.4L1541.6 567.8L1543.3 566.6L1544.1 564.7L1544.4 562.4L1547.0 562.0L1548.4 560.6L1549.4 558.8L1551.3 557.8L1552.2 555.9L1552.7 553.8L1554.1 552.4L1554.9 550.4L1557.0 549.6L1557.1 547.1L1559.5 546.5L1561.6 545.8L1562.3 543.7L1563.3 542.0L1564.1 540.0L1565.0 538.2L1566.7 537.0L1569.3 536.7L1569.9 534.5L1570.3 532.3L1572.7 531.7L1574.4 530.6L1575.2 528.6L1576.7 527.3L1577.1 525.0L1578.6 523.6L1580.9 523.0L1581.7 521.1L1583.3 519.9L1585.8 519.5L1585.3 516.3L1586.4 514.7L1588.3 513.7L1590.7 513.2L1590.9 510.7L1592.5 509.5L1594.4 508.5L1595.4 506.8L1597.4 505.9L1598.9 504.6L1599.6 502.6L1601.1 501.2L1603.7 501.0L1604.0 498.6L1606.1 497.8L1607.9 496.8L1607.5 493.6L1608.9 492.2L1610.4 490.9L1611.7 489.4L1614.4 489.3L1614.8 486.9L1615.9 485.2L1617.9 484.3L1620.2 484.0L1620.7 481.6L1622.5 480.6L1623.4 478.7L1626.4 479.0L1627.0 476.7L1627.9 474.7L1629.1 473.1L1630.5 471.7L1632.2 470.7L1634.9 470.6L1634.8 467.6L1637.8 467.9L1639.4 466.8L1639.4 463.9L1640.5 462.1L1642.4 461.2L1643.4 459.5L1646.1 459.5L1647.5 458.0L1648.5 456.2L1651.3 456.3L1652.7 455.0L1653.6 453.0L1655.2 451.7L1657.3 451.2L1658.0 449.0L1659.9 448.1L1661.0 446.4L1662.2 444.7L1664.5 444.4L1665.7 442.8L1666.0 440.0L1667.7 438.9L1669.4 437.9L1670.9 436.6L1672.5 435.4L1673.8 433.9L1676.9 434.6L1677.4 432.1L1679.2 431.1L1681.2 430.5L1681.4 427.5L1683.1 426.5L1685.8 426.7L1686.8 424.8L1687.9 422.9L1690.5 423.1L1691.3 420.8L1692.4 419.1L1694.0 417.9L1696.3 417.6L1697.2 415.6L1698.7 414.3L1701.2 414.3L1702.7 413.0L1703.6 410.9L1705.2 409.6L1707.1 408.9L1708.1 406.9L1709.9 406.0L1712.3 405.9L1713.3 403.9L1715.1 403.1L1717.4 402.8L1719.1 401.8L1719.3 398.7L1722.1 399.3L1724.2 398.7L1724.3 395.5L1725.9 394.3L1728.8 394.9L1730.1 393.4L1730.7 390.8L1733.7 391.6L1734.3 389.1L1736.8 389.2L1738.8 388.5L1738.8 385.1L1741.8 385.9L1743.3 384.6L1744.5 382.9L1746.3 382.0L1748.1 381.2L1749.9 380.2L1750.5 377.7L1753.0 377.8L1753.5 375.0L1756.4 375.8L1758.1 374.8L1759.4 373.1L1761.4 372.6L1762.0 369.8L1764.5 370.1L1765.3 367.7L1768.0 368.2L1770.1 367.8L1771.3 366.0L1771.9 363.3L1775.0 364.4L1776.3 362.9L1777.2 360.5L1778.9 359.5L1780.4 358.1L1783.2 358.9L1784.8 357.7L1785.5 355.1L1788.1 355.5L1789.5 354.1L1791.7 353.8L1792.5 351.3L1794.2 350.3L1795.8 349.1L1798.2 349.3L1800.2 348.8L1801.0 346.2L1803.3 346.2L1804.9 345.0L1806.6 344.0L1807.8 342.3L1809.7 341.6L1811.9 341.3L1812.8 338.9L1815.3 339.3L1816.2 337.0L1817.9 335.8L1819.8 335.2L1822.1 335.2L1823.7 334.0L1824.7 331.9L1827.8 333.2L1828.3 330.0L1830.3 329.6L1832.4 329.3L1834.3 328.7L1836.4 328.3L1838.2 327.6L1838.7 324.4L1841.5 325.3L1842.4 322.8L1845.0 323.5L1845.6 320.4L1848.1 321.0L1850.3 320.9L1851.1 318.1L1853.9 319.2L1855.7 318.2L1856.7 315.8L1858.1 314.3L1860.6 314.9L1862.1 313.3L1863.3 311.3L1865.9 312.2L1867.9 311.7L1869.2 309.9L1870.8 308.6L1872.4 307.4L1874.7 307.4L1876.8 307.2L1877.9 304.9L1879.6 304.0L1882.1 304.5L1883.9 303.7L1884.9 301.3L1886.2 299.4L1889.2 300.9L1890.6 299.3L1892.3 298.1L1894.3 297.8L1895.3 295.3L1898.0 296.2L1899.4 294.5L1901.2 293.7L1902.5 291.7L1904.2 290.8L1905.9 289.7L1908.8 290.9L1910.4 289.6L1912.1 288.6L1914.2 288.3L1914.9 285.2L1917.6 286.3L1918.8 284.2L1920.7 283.5L1922.1 281.7L1924.1 281.3L1926.6 281.8L1928.0 280.1L1930.4 280.4L1931.2 277.6L1933.3 277.2L1935.5 277.2L1936.4 274.5L1939.2 275.7L1940.6 274.0L1942.1 272.5L1944.6 272.9L1946.4 272.2L1948.2 271.1L1949.8 269.9L1951.2 268.2L1953.1 267.5L1955.4 267.6L1957.1 266.5L1958.3 264.5L1960.2 263.7L1962.5 263.8L1963.9 262.1L1966.2 262.2L1966.8 258.9L1969.5 259.9L1971.2 258.7L1972.7 257.3L1974.7 256.8L1975.9 254.7L1977.3 253.1L1979.4 252.8L1981.3 252.0L1983.0 250.8L1984.8 250.1L1987.2 250.2L1988.4 248.1L1990.2 247.3L1992.9 248.1L1993.5 245.0L1996.2 245.6L1997.0 242.9L1999.1 242.6L2001.5 242.7L2002.6 240.4L2004.9 240.5L2006.4 238.9L2008.4 238.4L2010.3 237.7L2011.1 235.0L2012.9 234.0L2015.6 234.8L2017.1 233.2L2018.4 231.5L2020.1 230.4L2022.8 230.9L2024.1 229.1L2025.2 227.0L2027.2 226.4L2029.3 226.0L2030.9 224.8L2032.1 222.7L2034.1 222.2L2035.5 220.6L2038.5 221.6L2039.4 219.2L2041.7 219.0L2043.3 217.8L2044.3 215.6L2046.9 215.8L2048.1 214.0L2049.6 212.5L2052.0 212.5L2053.7 211.3L2055.1 209.8L2056.4 208.0L2058.3 207.3L2059.5 205.4L2062.0 205.4L2063.5 204.0L2064.4 201.6L2065.6 199.8L2068.2 200.1L2070.2 199.3L2070.7 196.5L2073.5 196.9L2074.8 195.3L2076.8 194.5L2077.1 191.5L2080.0 191.9L2080.1 188.6L2081.7 187.4L2083.5 186.4L2085.8 186.1L2087.1 184.4L2088.1 182.4L2089.7 181.1L2091.8 180.5L2092.9 178.7L2094.0 176.8L2096.8 177.0L2098.3 175.6L2099.0 173.3L2101.4 172.9L2102.5 171.1L2102.7 168.2L2105.7 168.6L2106.8 166.7L2108.3 165.4L2109.5 163.6L2111.2 162.5L2113.5 161.9L2113.3 158.7L2114.4 156.9L2117.2 156.9L2118.8 152.1L2120.3 147.2L2119.3 145.1L2105.0 147.1L2107.7 148.6L2106.1 146.9L2106.2 145.1L2105.4 147.1L2104.2 148.7L2102.7 150.0L2100.4 150.3L2100.3 153.2L2097.3 152.8L2096.8 155.2L2094.3 155.3L2093.4 157.3L2091.1 157.5L2090.0 159.3L2089.1 161.3L2087.6 162.5L2084.9 162.4L2083.9 164.2L2082.2 165.2L2080.8 166.7L2078.2 166.6L2078.3 169.8L2076.5 170.7L2074.1 170.9L2072.2 171.6L2070.3 172.3L2070.0 175.3L2067.2 174.7L2066.4 176.9L2064.1 177.1L2062.0 177.6L2061.4 180.1L2058.6 179.5L2057.5 181.3L2055.6 182.1L2053.8 183.0L2052.1 184.0L2051.8 186.9L2049.8 187.5L2047.3 187.3L2045.8 188.6L2045.3 191.4L2042.6 190.9L2040.7 191.6L2039.7 193.6L2037.4 193.8L2036.7 196.3L2034.9 197.0L2032.6 197.1L2031.1 198.5L2029.8 200.1L2027.8 200.7L2026.8 202.7L2024.8 203.3L2022.8 203.7L2020.6 204.0L2018.9 204.9L2017.0 205.6L2016.5 208.5L2014.9 209.8L2012.2 209.1L2010.3 209.7L2009.3 211.9L2007.2 212.3L2006.6 215.2L2003.7 214.1L2002.6 216.1L2001.1 217.5L1998.6 217.1L1997.3 218.8L1995.2 219.2L1994.1 221.1L1991.9 221.4L1989.9 221.7L1988.5 223.2L1987.2 225.0L1985.6 226.3L1983.4 226.4L1981.9 227.7L1980.6 229.5L1978.9 230.5L1976.4 230.0L1974.5 230.8L1972.8 231.8L1971.0 232.6L1969.0 233.1L1968.1 235.7L1965.7 235.3L1964.3 236.9L1962.7 238.2L1961.2 239.6L1958.4 238.5L1956.9 239.9L1955.6 241.8L1954.2 243.4L1951.5 242.4L1950.4 244.7L1948.3 244.9L1946.9 246.5L1944.4 246.0L1943.6 248.8L1940.6 247.4L1939.5 249.7L1937.5 250.0L1936.2 251.9L1933.9 251.8L1932.7 253.7L1931.2 255.2L1928.8 254.9L1926.8 255.4L1925.4 257.0L1923.2 257.2L1921.5 258.1L1919.8 259.2L1918.3 260.7L1916.5 261.6L1915.2 263.4L1912.9 263.2L1911.3 264.6L1908.7 263.8L1907.6 266.1L1905.6 266.7L1904.4 268.7L1901.8 268.0L1900.4 269.6L1898.4 270.2L1896.9 271.6L1894.5 271.2L1893.4 273.5L1891.7 274.6L1889.5 274.7L1888.1 276.4L1886.0 276.8L1883.6 276.4L1882.0 277.6L1880.6 279.3L1879.1 280.8L1877.2 281.5L1874.5 280.6L1873.1 282.3L1871.8 284.1L1869.5 284.1L1867.3 284.1L1866.8 287.6L1864.3 287.2L1862.0 287.0L1860.9 289.4L1858.9 289.8L1857.6 291.8L1855.2 291.5L1854.1 293.8L1851.2 292.5L1850.3 295.2L1847.8 294.7L1847.0 297.5L1844.6 297.3L1843.2 299.0L1841.4 299.8L1839.6 300.7L1837.5 301.0L1835.3 301.2L1834.6 304.2L1832.8 305.1L1830.4 305.0L1829.4 307.4L1827.0 307.1L1825.4 308.3L1823.0 308.3L1822.2 311.0L1819.3 309.9L1818.7 313.0L1816.0 312.3L1814.0 312.9L1812.6 314.6L1810.6 315.1L1809.6 317.4L1808.2 319.1L1805.9 319.1L1803.9 319.7L1802.4 321.1L1800.7 322.1L1798.4 322.3L1796.5 323.0L1794.8 324.0L1794.4 327.4L1791.3 326.1L1790.1 328.1L1788.3 329.0L1786.6 330.2L1784.6 330.7L1782.8 331.6L1781.7 333.6L1779.3 333.7L1777.7 334.9L1775.8 335.7L1774.1 336.8L1773.1 339.1L1771.4 340.1L1770.3 342.1L1768.2 342.6L1765.6 342.2L1763.9 343.4L1762.6 345.1L1761.3 346.7L1758.7 346.5L1758.1 349.4L1756.5 350.6L1754.8 351.7L1753.1 352.7L1750.4 352.2L1749.7 355.0L1748.2 356.3L1745.4 355.7L1744.4 358.0L1743.0 359.4L1741.2 360.4L1738.8 360.4L1737.0 361.4L1736.9 364.7L1733.8 363.9L1733.5 367.0L1731.4 367.5L1729.4 368.2L1727.7 369.2L1725.5 369.6L1724.9 372.3L1723.5 373.8L1720.7 373.4L1718.9 374.2L1718.3 376.9L1717.0 378.5L1714.6 378.7L1713.5 380.6L1711.5 381.3L1709.5 382.1L1708.1 383.5L1706.3 384.5L1704.4 385.3L1702.8 386.6L1702.6 389.7L1700.8 390.7L1699.3 392.0L1696.3 391.4L1695.3 393.4L1694.5 395.7L1693.0 397.0L1690.0 396.4L1689.8 399.5L1688.2 400.7L1685.8 400.9L1683.7 401.6L1681.9 402.5L1681.3 405.0L1678.7 405.0L1678.5 408.0L1676.1 408.2L1674.9 410.0L1673.1 411.0L1671.1 411.7L1669.9 413.4L1667.9 414.2L1667.6 417.0L1665.8 418.0L1664.8 419.9L1663.2 421.2L1660.6 421.2L1659.6 423.1L1658.4 424.8L1656.5 425.7L1654.4 426.4L1653.6 428.5L1652.4 430.3L1649.4 429.9L1648.4 431.8L1647.9 434.3L1646.4 435.7L1645.1 437.3L1641.8 436.5L1642.0 439.8L1640.5 441.2L1637.9 441.2L1636.8 443.1L1636.1 445.3L1633.3 445.2L1631.3 446.0L1630.6 448.3L1629.9 450.5L1626.9 450.2L1627.3 453.6L1624.4 453.4L1623.8 455.8L1621.6 456.4L1621.0 458.7L1619.4 460.0L1617.4 460.7L1615.8 462.0L1615.4 464.6L1614.2 466.2L1612.1 466.9L1611.0 468.7L1609.5 470.1L1607.0 470.3L1605.2 471.4L1604.8 473.9L1603.1 475.0L1601.3 476.1L1599.9 477.5L1599.2 479.7L1596.5 479.9L1596.9 483.1L1594.5 483.6L1592.3 484.2L1592.6 487.3L1589.9 487.5L1589.7 490.2L1587.6 490.9L1587.2 493.4L1585.3 494.3L1582.7 494.6L1582.0 496.7L1580.9 498.5L1579.8 500.2L1578.4 501.7L1576.0 502.2L1574.6 503.7L1574.6 506.4L1573.1 507.8L1571.4 508.9L1569.9 510.3L1568.8 512.0L1567.8 513.8L1566.7 515.5L1565.0 516.7L1563.4 518.0L1561.5 519.0L1561.0 521.2L1559.3 522.5L1558.2 524.2L1557.4 526.1L1554.3 526.1L1554.7 529.1L1551.5 529.0L1550.8 531.0L1550.6 533.5L1549.1 534.9L1546.5 535.3L1546.2 537.7L1544.9 539.3L1543.0 540.3L1541.0 541.2L1540.3 543.3L1538.4 544.4L1538.7 547.3L1535.7 547.4L1534.4 548.9L1534.6 551.7L1532.8 552.8L1532.5 555.2L1530.8 556.4L1528.9 557.4L1527.7 559.0L1525.6 559.9L1525.4 562.3L1523.4 563.4L1523.7 566.2L1521.9 567.3L1519.6 568.1L1517.9 569.3L1517.1 571.2L1517.2 573.8L1514.6 574.3L1513.6 576.2L1511.6 577.1L1511.6 579.7L1511.3 582.0L1508.5 582.4L1507.0 583.8L1506.0 585.6L1506.2 588.2L1503.4 588.6L1502.2 590.2L1501.1 591.9L1501.6 594.8L1498.9 595.3L1497.1 596.5L1497.0 598.9L1496.1 600.7L1494.2 601.9L1492.5 603.1L1492.6 605.7L1491.0 607.0L1489.0 608.0L1489.6 611.0L1487.2 611.7L1485.5 612.9L1485.3 615.3L1483.9 616.7L1482.4 618.2L1480.5 619.3L1479.2 620.8L1479.9 623.8L1477.3 624.4L1475.8 625.8L1474.8 627.6L1473.8 629.3L1472.3 630.7L1472.6 633.4L1472.1 635.5L1468.9 635.7L1469.6 638.7L1466.5 639.0L1466.9 641.7L1465.7 643.3L1463.0 643.9L1462.4 645.9L1460.7 647.2L1461.5 650.2L1459.6 651.3L1457.4 652.2L1456.5 654.1L1456.5 656.5L1456.1 658.7L1453.8 659.6L1453.0 661.4L1451.6 662.9L1449.4 663.8L1450.0 666.7L1448.5 668.1L1447.5 669.9L1446.5 671.6L1445.3 673.2L1443.1 674.2L1441.7 675.7L1441.0 677.6L1441.1 680.1L1439.2 681.2L1438.5 683.2L1437.4 684.8L1436.8 686.9L1436.3 688.9L1434.7 690.3L1431.9 690.9L1433.2 694.1L1431.3 695.3L1429.3 696.4L1428.5 698.3L1426.7 699.5L1427.2 702.2L1426.7 704.2L1424.7 705.3L1423.7 707.1L1421.4 708.1L1421.9 710.7L1421.0 712.5L1418.3 713.2L1418.6 715.7L1417.5 717.4L1416.2 719.0L1414.0 720.0L1413.0 721.8L1413.7 724.5L1411.9 725.8L1410.2 727.1L1411.2 730.0L1409.5 731.4L1408.1 732.9L1405.7 733.8L1405.1 735.8L1404.6 737.8L1402.8 739.1L1402.8 741.4L1401.6 743.0L1399.7 744.2L1398.7 746.0L1398.3 748.1L1397.3 749.8L1397.6 752.3L1394.7 753.0L1394.4 755.1L1394.1 757.3L1393.3 759.1L1392.3 760.9L1390.3 762.0L1390.6 764.5L1387.7 765.2L1386.9 767.0L1388.0 770.0L1386.6 771.5L1384.8 772.8L1383.9 774.6L1384.0 776.9L1382.0 778.1L1380.0 779.3L1380.2 781.7L1380.0 783.9L1377.5 784.8L1376.3 786.4L1375.2 788.1L1375.7 790.7L1374.1 792.1L1371.9 793.2L1372.3 795.7L1370.3 796.9L1371.3 799.7L1369.0 800.7L1367.8 802.4L1368.1 804.8L1367.2 806.6L1365.8 808.1L1365.3 810.1L1363.1 811.2L1361.8 812.8L1362.3 815.4L1360.7 816.8L1359.0 818.1L1359.9 820.9L1359.0 822.7L1356.7 823.7L1357.1 826.2L1355.4 827.6L1353.5 828.9L1352.5 830.6L1352.0 832.6L1352.1 835.0L1350.5 836.4L1349.4 838.1L1348.9 840.1L1348.2 841.9L1347.6 843.9L1346.8 845.7L1344.9 847.0L1344.0 848.8L1341.7 849.9L1340.8 851.7L1341.3 854.2L1341.3 856.4L1338.9 857.4L1337.3 858.9L1337.2 861.1L1335.9 862.7L1335.7 864.8L1335.0 866.7L1334.6 868.8L1332.3 869.9L1330.8 871.3L1330.0 873.2L1331.1 876.0L1330.0 877.6L1327.1 878.5L1327.4 880.8L1327.6 883.2L1325.4 884.3L1324.6 886.2L1323.3 887.7L1321.9 889.3L1322.2 891.7L1320.6 893.1L1321.1 895.6L1318.5 896.6L1318.2 898.6L1317.3 900.5L1317.4 902.8L1315.4 904.0L1315.0 906.0L1315.0 908.3L1313.6 909.8L1313.1 911.8L1311.9 913.4L1310.9 915.2L1308.7 916.3L1309.8 919.1L1309.2 921.0L1307.7 922.5L1305.3 923.5L1304.1 925.2L1303.3 927.0L1303.5 929.4L1303.1 931.4L1302.3 933.3L1301.4 935.0L1299.3 936.2L1299.8 938.7L1299.2 940.6L1298.2 942.4L1297.0 944.0L1296.2 945.8L1293.6 946.8L1292.9 948.7L1292.2 950.6L1291.2 952.3L1292.0 954.9L1289.6 956.0L1289.4 958.1L1287.4 959.3L1287.8 961.7L1287.0 963.6L1286.4 965.5L1285.3 967.2L1284.8 969.2L1282.6 970.3L1282.8 972.6L1280.2 973.6L1280.0 975.7L1279.2 977.5L1278.4 979.3L1276.8 980.8L1276.1 982.7L1276.2 985.0L1273.8 986.0L1273.0 987.8L1274.4 990.8L1271.6 991.6L1271.7 993.8L1271.1 995.8L1270.1 997.5L1267.8 998.6L1266.6 1000.2L1266.3 1002.3L1266.0 1004.3L1264.9 1006.1L1264.1 1007.9L1262.9 1009.5L1262.6 1011.6L1262.6 1013.8L1260.9 1015.2L1260.4 1017.2L1259.2 1018.8L1257.7 1020.3L1255.9 1021.6L1255.7 1023.7L1255.0 1025.5L1252.7 1026.6L1252.4 1028.7L1251.3 1030.3L1251.5 1032.7L1249.0 1033.6L1249.5 1036.2L1248.0 1037.6L1247.3 1039.5L1247.3 1041.8L1245.1 1042.8L1245.7 1045.4L1242.8 1046.1L1242.3 1048.1L1242.8 1050.6L1241.4 1052.1L1239.2 1053.1L1238.4 1055.0L1238.6 1057.4L1237.9 1059.2L1234.5 1059.6L1234.1 1061.7L1234.4 1064.1L1233.1 1065.7L1232.8 1067.8L1229.6 1068.2L1229.6 1070.5L1227.4 1071.5L1226.8 1073.4L1227.5 1076.2L1226.0 1077.6L1225.0 1079.3L1224.0 1081.0L1221.7 1081.9L1222.2 1084.5L1220.7 1086.0L1219.6 1087.6L1218.8 1089.4L1217.6 1091.0L1216.8 1092.9L1214.7 1093.9L1214.0 1095.8L1212.2 1096.9L1210.8 1098.4L1211.7 1101.4L1208.4 1101.5L1209.0 1104.3L1208.0 1106.0L1205.3 1106.6L1204.2 1108.2L1203.9 1110.4L1202.3 1111.7L1201.0 1113.2L1201.1 1115.7L1200.1 1117.4L1199.1 1119.1L1196.7 1119.8L1195.8 1121.6L1194.1 1122.8L1194.2 1125.3L1191.9 1126.0L1190.6 1127.5L1189.7 1129.3L1189.1 1131.3L1188.4 1133.3L1186.8 1134.5L1184.3 1135.1L1183.8 1137.2L1181.9 1138.2L1182.2 1140.9L1179.3 1141.1L1178.1 1142.7L1176.6 1144.0L1175.7 1145.8L1174.1 1147.0L1174.5 1149.9L1172.1 1150.5L1171.3 1152.3L1170.8 1154.5L1168.7 1155.3L1166.2 1155.7L1165.3 1157.5L1163.9 1158.8L1164.3 1161.9L1162.4 1162.8L1160.0 1163.2L1159.6 1165.5L1158.4 1167.1L1156.1 1167.6L1155.8 1170.1L1153.3 1170.4L1152.8 1172.6L1150.6 1173.1L1149.3 1174.6L1148.2 1176.3L1146.1 1176.9L1145.8 1179.4L1144.9 1181.3L1143.0 1182.2L1140.6 1182.4L1138.9 1183.5L1137.1 1184.3L1135.8 1185.9L1134.7 1187.5L1132.8 1188.2L1131.7 1189.9L1131.0 1192.1L1129.3 1193.2L1127.3 1193.8L1126.3 1195.6L1125.1 1197.2L1121.9 1196.3L1121.4 1198.8L1119.4 1199.3L1118.9 1201.9L1116.5 1201.9L1115.5 1203.9L1113.7 1204.7L1111.4 1204.9L1110.6 1207.0L1108.6 1207.5L1107.3 1209.0L1106.0 1210.5L1104.1 1211.2L1101.9 1211.3L1101.3 1213.9L1098.9 1213.9L1096.7 1213.9L1095.2 1215.1L1093.3 1215.7L1092.6 1218.3L1090.5 1218.5L1088.4 1218.7L1086.7 1219.6L1085.1 1220.7L1083.8 1222.4L1083.1 1225.1L1080.7 1224.7L1079.4 1226.3L1077.5 1226.9L1075.5 1227.4L1074.4 1229.4L1072.9 1230.6L1070.8 1230.8L1068.7 1230.9L1067.2 1232.2L1065.3 1232.8L1063.7 1233.8L1062.1 1235.0L1059.4 1233.9L1057.8 1235.0L1056.4 1236.5L1054.6 1237.2L1053.5 1239.6L1050.8 1238.2L1049.8 1240.8L1047.3 1239.8L1046.2 1242.2L1043.6 1241.0L1042.2 1242.8L1040.7 1244.1L1038.4 1243.6L1037.3 1246.2L1034.7 1244.7L1033.3 1246.7L1031.4 1246.9L1029.9 1248.5L1027.5 1247.5L1025.7 1248.2L1024.4 1250.7L1022.3 1250.5L1020.2 1250.1L1018.7 1251.8L1016.9 1252.7L1015.0 1252.9L1013.3 1254.2L1011.4 1254.7L1009.3 1254.5L1007.2 1254.1L1005.5 1255.2L1003.5 1255.2L1001.5 1255.4L1000.1 1257.5L998.1 1257.7L996.0 1257.2L993.9 1256.8L992.2 1258.2L990.4 1259.0L988.3 1258.6L986.6 1259.8L984.9 1261.3L982.6 1259.6L980.6 1259.3L978.8 1260.5L977.1 1261.7L974.9 1260.4L973.3 1262.7L971.4 1262.9L969.5 1263.5L967.3 1262.4L965.7 1264.7L963.7 1264.2L961.6 1263.3L959.7 1264.0L957.9 1265.3L955.8 1264.2L954.1 1266.3L952.0 1264.8L950.0 1264.4L948.3 1266.8L946.3 1266.2L944.2 1265.5L942.4 1266.3L940.6 1267.9L938.5 1267.3L936.6 1267.3L934.7 1267.7L932.7 1268.1L930.6 1266.0L928.7 1265.9L926.8 1266.5L924.9 1268.5L922.9 1266.5L921.0 1268.9L919.0 1268.1L917.1 1269.1L915.1 1268.6L913.2 1268.3L911.2 1267.2L909.3 1268.3L907.3 1268.9L905.3 1267.1L903.4 1267.8L901.4 1269.2L899.5 1268.9L897.5 1267.7L895.6 1267.1L893.6 1267.4L891.6 1269.2L889.7 1266.6L887.7 1268.2L885.8 1266.6L883.7 1269.3L881.8 1267.5L879.8 1269.2L877.9 1268.0L875.9 1268.1L873.9 1268.8L872.0 1266.9L870.0 1267.6L868.1 1266.5L866.1 1267.2L864.1 1267.5L862.2 1267.2L860.2 1267.3L858.2 1266.7L856.2 1267.9L854.3 1265.9L852.3 1266.1L850.2 1267.6L848.4 1266.1L846.4 1266.0L844.4 1266.3L842.4 1266.2L840.5 1265.7L838.5 1266.0L836.4 1266.4L834.7 1264.0L832.6 1264.9L830.6 1264.7L828.8 1262.8L826.7 1264.0L824.8 1263.5L822.7 1264.2L820.8 1263.9L818.7 1264.5L817.0 1262.1L815.0 1262.0L812.9 1263.1L811.0 1261.7L808.9 1263.1L807.2 1260.4L805.2 1260.4L803.2 1260.1L801.2 1260.4L799.0 1261.6L797.2 1260.0L795.3 1259.1L793.1 1260.9L791.3 1259.7L789.1 1260.7L787.2 1260.4L785.5 1257.8L783.5 1257.9L781.5 1257.4L779.4 1258.0L777.6 1256.7L775.5 1257.3L773.3 1258.8L771.5 1257.2L769.5 1257.1L767.5 1257.2L765.7 1255.0L763.4 1257.4L761.7 1255.4L759.5 1256.6L757.5 1256.2L755.8 1254.3L753.8 1253.6L751.5 1256.0L749.8 1253.4L747.8 1253.2L745.8 1253.0L743.7 1254.1L741.7 1254.0L739.8 1252.9L737.9 1252.0L735.7 1253.3L733.7 1252.8L731.9 1251.1L729.7 1252.7L728.0 1250.0L725.9 1251.1L724.1 1249.4L721.9 1250.5L719.7 1251.7L717.7 1251.3L715.7 1251.2L714.0 1248.5L712.0 1248.6L710.0 1248.2L708.0 1248.0L705.7 1249.9L703.8 1248.8L701.8 1248.6L700.0 1246.9L697.8 1248.6L695.9 1247.7L693.8 1247.7L691.9 1246.6L689.8 1247.5L687.8 1246.8L686.0 1244.9L683.8 1246.1L681.9 1245.1L679.8 1245.4L677.7 1246.7L675.8 1245.1L673.9 1243.8L671.7 1245.8L669.8 1243.4L667.8 1243.8L665.8 1243.5L663.5 1245.7L661.7 1242.8L659.6 1244.3L657.6 1243.9L655.5 1244.3L653.5 1243.4L651.6 1242.2L649.4 1243.5L647.4 1243.4L645.4 1242.5L643.4 1242.4L641.3 1243.8L639.3 1242.0L637.3 1241.3L635.2 1242.8L633.1 1243.2L631.2 1241.2L629.1 1241.1L627.0 1241.8L625.0 1243.1L622.9 1242.0L620.9 1242.5L618.8 1242.2L616.8 1241.8L614.8 1243.0L612.7 1241.0L610.6 1241.9L608.6 1242.4L606.5 1241.6L604.5 1242.4L602.5 1243.1L600.4 1243.0L598.3 1241.7L596.3 1243.0L594.2 1242.9L592.2 1244.0L590.2 1244.2L588.1 1244.3L585.9 1242.8L583.9 1243.5L581.8 1242.7L580.0 1245.6L577.7 1243.2L575.8 1245.5L573.8 1245.8L571.5 1244.2L569.7 1246.1L567.4 1244.8L565.4 1245.6L563.5 1246.9L561.3 1245.7L559.5 1247.8L557.5 1248.2L555.1 1246.5L553.2 1248.0L550.9 1246.8L548.9 1247.5L547.0 1248.6L545.2 1250.2L542.8 1248.7L540.7 1248.9L538.6 1249.2L537.1 1251.6L535.0 1252.0L532.5 1250.7L530.6 1251.3L528.8 1252.9L526.5 1252.5L525.0 1254.7L522.7 1254.3L520.5 1254.2L519.4 1257.6L516.7 1256.2L514.8 1256.9L512.8 1257.5L511.3 1259.5L508.8 1258.7L507.3 1260.7L505.2 1260.9L503.3 1261.8L501.7 1263.5L499.9 1264.5L497.6 1264.4L495.3 1264.3L493.7 1265.9L491.5 1266.0L490.3 1268.5L488.0 1268.3L486.4 1269.9L484.8 1271.5L482.6 1271.6L480.6 1274.2L476.9 1277.1L475.3 1280.6Z" fill="#ff8000"/>
<circle cx="483" cy="1281" r="9" fill="#ff8000"/>
<circle cx="2111" cy="143" r="7" fill="#ff8000"/>
<path d="M375.15 49.75H2220.7V1403.2H375.15Z" fill="none" stroke="#000" stroke-width="10.5" stroke-linejoin="miter"/>
<path d="M380 163.1H406M380 389.5H406M380 615.6H406M380 839.7H406M380 1066.1H406M380 1290.1H406M478 1398V1372.5M888 1398V1372.5M1298 1398V1372.5M1708 1398V1372.5M2118 1398V1372.5" stroke="#000" stroke-width="10.4"/>
<text x="290.3" y="195.5" font-family="Liberation Serif, Times New Roman, serif" font-size="104" letter-spacing="4.5">0</text>
<text x="194.6" y="421.9" font-family="Liberation Serif, Times New Roman, serif" font-size="104" letter-spacing="4.5">-10</text>
<text x="194.6" y="648.0" font-family="Liberation Serif, Times New Roman, serif" font-size="104" letter-spacing="4.5">-20</text>
<text x="194.6" y="872.1" font-family="Liberation Serif, Times New Roman, serif" font-size="104" letter-spacing="4.5">-30</text>
<text x="194.6" y="1098.5" font-family="Liberation Serif, Times New Roman, serif" font-size="104" letter-spacing="4.5">-40</text>
<text x="194.6" y="1322.5" font-family="Liberation Serif, Times New Roman, serif" font-size="104" letter-spacing="4.5">-50</text>
<text x="387.7" y="1519" font-family="Liberation Serif, Times New Roman, serif" font-size="104" letter-spacing="3.0">-0.8</text>
<text x="797.8" y="1519" font-family="Liberation Serif, Times New Roman, serif" font-size="104" letter-spacing="3.0">-0.6</text>
<text x="1207.3" y="1519" font-family="Liberation Serif, Times New Roman, serif" font-size="104" letter-spacing="3.0">-0.4</text>
<text x="1618.6" y="1519" font-family="Liberation Serif, Times New Roman, serif" font-size="104" letter-spacing="3.0">-0.2</text>
<text x="2046.5" y="1519" font-family="Liberation Serif, Times New Roman, serif" font-size="104" letter-spacing="3.0">0.0</text>
<text x="1253" y="1646" font-family="Liberation Serif, Times New Roman, serif" font-size="112" text-anchor="middle">Potential (V vs. Ag/AgCl)</text>
<text transform="translate(111.5 766.5) rotate(-90)" x="0" y="0" font-family="Liberation Serif, Times New Roman, serif" font-size="111" text-anchor="middle">Current (μA)</text>
<path d="M1408 814H1530" stroke="#027fc4" stroke-width="10.3" stroke-linecap="round" stroke-dasharray="7 51.6" fill="none"/>
<text y="837" font-family="Liberation Serif, Times New Roman, serif" font-size="72"><tspan x="1582.5">NiP</tspan></text>
<path d="M1404.5 903.7H1569.5" stroke="#027fc4" stroke-width="10.3" stroke-linecap="round" fill="none"/>
<text y="925" font-family="Liberation Serif, Times New Roman, serif" font-size="72"><tspan x="1582.5">NiP</tspan><tspan x="1716.2">+</tspan><tspan x="1777.3">5</tspan><tspan x="1829.5">mM</tspan><tspan x="1970.2">H</tspan><tspan x="2022.1" dy="29.5" font-size="46">2</tspan><tspan x="2046.3" dy="-29.5">O</tspan><tspan x="2096.8" dy="29.5" font-size="46">2</tspan></text>
<path d="M1408 1017.4H1530" stroke="#00c800" stroke-width="10.3" stroke-linecap="round" stroke-dasharray="7 51.6" fill="none"/>
<text y="1041.7" font-family="Liberation Serif, Times New Roman, serif" font-size="72"><tspan x="1584.8">CoP</tspan></text>
<path d="M1404.5 1106.6H1569.5" stroke="#00c800" stroke-width="10.3" stroke-linecap="round" fill="none"/>
<text y="1128.3" font-family="Liberation Serif, Times New Roman, serif" font-size="72"><tspan x="1584.8">CoP</tspan><tspan x="1728.4">+</tspan><tspan x="1789.8">5</tspan><tspan x="1842.2">mM</tspan><tspan x="1980.7">H</tspan><tspan x="2034.7" dy="29.5" font-size="46">2</tspan><tspan x="2056.7" dy="-29.5">O</tspan><tspan x="2109.4" dy="29.5" font-size="46">2</tspan></text>
<path d="M1408 1220H1530" stroke="#ff8000" stroke-width="10.3" stroke-linecap="round" stroke-dasharray="7 51.6" fill="none"/>
<text y="1245" font-family="Liberation Serif, Times New Roman, serif" font-size="72"><tspan x="1581.9">NiCoP</tspan></text>
<path d="M1404.5 1309.8H1569.5" stroke="#ff8000" stroke-width="10.3" stroke-linecap="round" fill="none"/>
<text y="1333" font-family="Liberation Serif, Times New Roman, serif" font-size="72"><tspan x="1581.9">NiCoP</tspan><tspan x="1800.1">+</tspan><tspan x="1863.1">5</tspan><tspan x="1914.8">mM</tspan><tspan x="2055.4">H</tspan><tspan x="2108.0" dy="29.5" font-size="46">2</tspan><tspan x="2131.5" dy="-29.5">O</tspan><tspan x="2182.0" dy="29.5" font-size="46">2</tspan></text>
</svg></body></html>
